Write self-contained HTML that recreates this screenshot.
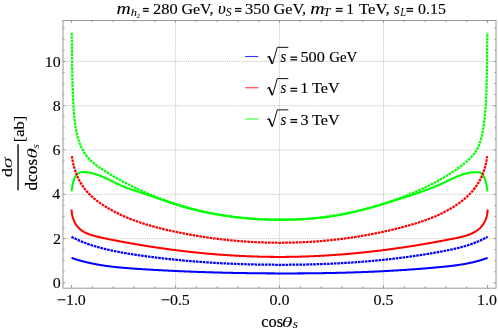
<!DOCTYPE html>
<html><head><meta charset="utf-8"><title>plot</title>
<style>
html,body{margin:0;padding:0;background:#fff;}
body{width:498px;height:331px;overflow:hidden;}
svg{display:block;}
text{font-family:"Liberation Serif",serif;fill:#000;}
.i{font-style:italic;}
</style></head><body>
<svg style="will-change:transform" width="498" height="331" viewBox="0 0 498 331">
<rect width="498" height="331" fill="#fff"/>
<g stroke="#a6a6a6" stroke-width="0.7" stroke-dasharray="1 1.05" fill="none">
<line x1="175.58" y1="20.5" x2="175.58" y2="288.2"/>
<line x1="279.55" y1="20.5" x2="279.55" y2="288.2"/>
<line x1="383.52" y1="20.5" x2="383.52" y2="288.2"/>
<line x1="63.0" y1="238.60" x2="496.0" y2="238.60"/>
<line x1="63.0" y1="194.30" x2="496.0" y2="194.30"/>
<line x1="63.0" y1="150.00" x2="496.0" y2="150.00"/>
<line x1="63.0" y1="105.70" x2="496.0" y2="105.70"/>
<line x1="63.0" y1="61.40" x2="496.0" y2="61.40"/>
</g>
<path d="M71.50,191.40 L71.63,190.79 L71.75,190.16 L71.86,189.53 L71.96,188.91 L72.06,188.32 L72.16,187.70 L72.27,187.06 L72.37,186.47 L72.48,185.86 L72.59,185.24 L72.71,184.61 L72.84,183.98 L72.97,183.34 L73.12,182.71 L73.27,182.07 L73.43,181.44 L73.61,180.81 L73.79,180.19 L73.99,179.57 L74.20,178.97 L74.43,178.39 L74.67,177.82 L74.92,177.27 L75.22,176.68 L75.54,176.13 L75.88,175.60 L76.24,175.11 L76.66,174.61 L77.11,174.16 L77.58,173.76 L78.09,173.41 L78.62,173.11 L79.17,172.84 L79.75,172.62 L80.35,172.44 L80.96,172.29 L81.60,172.18 L82.24,172.10 L82.85,172.06 L83.46,172.03 L84.08,172.03 L84.71,172.05 L85.34,172.09 L85.98,172.14 L86.61,172.21 L87.25,172.29 L87.89,172.39 L88.53,172.49 L89.16,172.60 L89.79,172.72 L90.42,172.85 L91.04,172.98 L91.66,173.13 L92.28,173.28 L92.89,173.43 L93.51,173.60 L94.12,173.77 L94.72,173.95 L95.33,174.13 L95.93,174.32 L96.53,174.51 L97.13,174.71 L97.72,174.92 L98.32,175.13 L98.91,175.35 L99.50,175.57 L100.09,175.80 L100.67,176.03 L101.26,176.26 L101.84,176.50 L102.42,176.74 L103.00,176.99 L103.58,177.24 L104.16,177.49 L104.73,177.75 L105.31,178.01 L105.88,178.27 L106.45,178.53 L107.02,178.80 L107.59,179.07 L108.16,179.34 L108.73,179.61 L109.30,179.88 L109.87,180.16 L110.44,180.43 L111.01,180.71 L111.57,180.99 L112.14,181.26 L112.71,181.54 L113.27,181.82 L113.84,182.09 L114.40,182.37 L114.97,182.65 L115.54,182.92 L116.11,183.20 L116.67,183.47 L117.24,183.74 L117.81,184.01 L118.38,184.28 L118.95,184.55 L119.52,184.81 L120.09,185.07 L120.66,185.33 L121.24,185.59 L121.81,185.84 L122.39,186.09 L122.96,186.34 L123.54,186.58 L124.12,186.82 L124.70,187.06 L125.28,187.29 L125.87,187.52 L126.45,187.74 L127.04,187.97 L127.62,188.18 L128.21,188.40 L128.80,188.61 L129.39,188.83 L129.98,189.03 L130.57,189.24 L131.16,189.45 L131.76,189.65 L132.35,189.85 L132.95,190.05 L133.54,190.25 L134.14,190.44 L134.73,190.64 L135.33,190.83 L135.93,191.02 L136.52,191.22 L137.12,191.41 L137.72,191.60 L138.32,191.79 L138.92,191.98 L139.52,192.17 L140.12,192.36 L140.71,192.55 L141.31,192.74 L141.91,192.94 L142.51,193.13 L143.11,193.32 L143.71,193.52 L144.31,193.71 L144.91,193.91 L145.50,194.11 L146.10,194.31 L146.70,194.51 L147.30,194.71 L147.89,194.91 L148.49,195.11 L149.09,195.31 L149.69,195.52 L150.28,195.72 L150.88,195.93 L151.47,196.14 L152.07,196.34 L152.67,196.55 L153.26,196.76 L153.86,196.97 L154.46,197.18 L155.05,197.39 L155.65,197.60 L156.24,197.81 L156.84,198.02 L157.43,198.23 L158.03,198.44 L158.63,198.65 L159.22,198.86 L159.82,199.07 L160.41,199.28 L161.01,199.49 L161.61,199.70 L162.20,199.91 L162.80,200.12 L163.39,200.33 L163.99,200.54 L164.59,200.75 L165.18,200.95 L165.78,201.16 L166.38,201.37 L166.97,201.57 L167.57,201.78 L168.17,201.99 L168.77,202.19 L169.36,202.39 L169.96,202.60 L170.56,202.80 L171.16,203.00 L171.76,203.20 L172.36,203.40 L172.96,203.59 L173.56,203.79 L174.15,203.98 L174.76,204.18 L175.36,204.37 L175.96,204.56 L176.56,204.75 L177.16,204.94 L177.76,205.13 L178.36,205.31 L178.96,205.50 L179.57,205.68 L180.17,205.86 L180.77,206.04 L181.38,206.22 L181.98,206.40 L182.59,206.57 L183.19,206.75 L183.79,206.92 L184.40,207.09 L185.00,207.26 L185.61,207.43 L186.22,207.60 L186.82,207.77 L187.43,207.93 L188.04,208.10 L188.64,208.26 L189.25,208.42 L189.86,208.58 L190.47,208.74 L191.07,208.90 L191.68,209.06 L192.29,209.21 L192.90,209.37 L193.51,209.52 L194.12,209.67 L194.73,209.82 L195.34,209.97 L195.95,210.12 L196.56,210.26 L197.17,210.41 L197.78,210.55 L198.40,210.69 L199.01,210.83 L199.62,210.97 L200.23,211.11 L200.84,211.25 L201.46,211.39 L202.07,211.52 L202.68,211.66 L203.30,211.79 L203.91,211.92 L204.52,212.05 L205.14,212.18 L205.75,212.31 L206.37,212.43 L206.98,212.56 L207.60,212.68 L208.21,212.80 L208.83,212.93 L209.44,213.05 L210.06,213.16 L210.68,213.28 L211.29,213.40 L211.91,213.51 L212.53,213.63 L213.14,213.74 L213.76,213.85 L214.38,213.97 L215.00,214.07 L215.61,214.18 L216.23,214.29 L216.85,214.40 L217.47,214.50 L218.09,214.61 L218.71,214.71 L219.33,214.81 L219.95,214.91 L220.57,215.01 L221.19,215.11 L221.81,215.20 L222.43,215.30 L223.05,215.39 L223.67,215.49 L224.29,215.58 L224.91,215.67 L225.53,215.76 L226.15,215.85 L226.77,215.94 L227.40,216.02 L228.02,216.11 L228.64,216.19 L229.26,216.28 L229.88,216.36 L230.51,216.44 L231.13,216.52 L231.75,216.60 L232.38,216.68 L233.00,216.75 L233.62,216.83 L234.25,216.91 L234.87,216.98 L235.49,217.05 L236.12,217.12 L236.74,217.19 L237.37,217.26 L237.99,217.33 L238.62,217.40 L239.24,217.46 L239.86,217.53 L240.49,217.59 L241.12,217.66 L241.74,217.72 L242.37,217.78 L242.99,217.84 L243.62,217.90 L244.24,217.95 L244.87,218.01 L245.50,218.07 L246.12,218.12 L246.75,218.17 L247.37,218.23 L248.00,218.28 L248.63,218.33 L249.25,218.38 L249.88,218.43 L250.51,218.48 L251.14,218.52 L251.76,218.57 L252.39,218.61 L253.02,218.66 L253.65,218.70 L254.27,218.74 L254.90,218.78 L255.53,218.82 L256.16,218.86 L256.79,218.90 L257.41,218.93 L258.04,218.97 L258.67,219.00 L259.30,219.04 L259.93,219.07 L260.56,219.10 L261.19,219.13 L261.81,219.16 L262.44,219.19 L263.07,219.22 L263.70,219.25 L264.33,219.27 L264.96,219.30 L265.59,219.32 L266.22,219.35 L266.85,219.37 L267.48,219.39 L268.11,219.41 L268.74,219.43 L269.37,219.45 L270.00,219.47 L270.63,219.49 L271.26,219.50 L271.89,219.52 L272.52,219.53 L273.15,219.54 L273.78,219.56 L274.41,219.57 L275.04,219.58 L275.67,219.59 L276.30,219.60 L276.93,219.61 L277.56,219.61 L278.19,219.62 L278.82,219.63 L279.45,219.63 L280.08,219.63 L280.71,219.64 L281.34,219.64 L281.97,219.64 L282.60,219.64 L283.23,219.64 L283.86,219.64 L284.49,219.64 L285.12,219.63 L285.75,219.63 L286.38,219.62 L287.02,219.62 L287.65,219.61 L288.28,219.60 L288.91,219.59 L289.54,219.58 L290.17,219.57 L290.80,219.56 L291.43,219.55 L292.06,219.53 L292.69,219.52 L293.32,219.50 L293.95,219.49 L294.58,219.47 L295.21,219.45 L295.84,219.43 L296.47,219.41 L297.10,219.39 L297.73,219.36 L298.36,219.34 L298.99,219.31 L299.62,219.29 L300.25,219.26 L300.88,219.23 L301.51,219.20 L302.14,219.17 L302.77,219.14 L303.40,219.11 L304.03,219.07 L304.66,219.04 L305.29,219.00 L305.92,218.96 L306.54,218.92 L307.17,218.88 L307.80,218.84 L308.43,218.80 L309.06,218.76 L309.69,218.71 L310.32,218.66 L310.94,218.62 L311.57,218.57 L312.20,218.52 L312.83,218.47 L313.45,218.42 L314.08,218.36 L314.71,218.31 L315.34,218.25 L315.96,218.19 L316.59,218.14 L317.22,218.08 L317.84,218.02 L318.47,217.95 L319.09,217.89 L319.72,217.82 L320.35,217.76 L320.97,217.69 L321.60,217.62 L322.22,217.55 L322.85,217.48 L323.47,217.41 L324.10,217.33 L324.72,217.25 L325.34,217.18 L325.97,217.10 L326.59,217.02 L327.21,216.94 L327.84,216.85 L328.46,216.77 L329.08,216.68 L329.71,216.60 L330.33,216.51 L330.95,216.42 L331.57,216.33 L332.19,216.23 L332.81,216.14 L333.44,216.04 L334.06,215.95 L334.68,215.85 L335.30,215.75 L335.92,215.64 L336.54,215.54 L337.16,215.44 L337.78,215.33 L338.39,215.22 L339.01,215.11 L339.63,215.00 L340.25,214.89 L340.87,214.77 L341.49,214.66 L342.10,214.54 L342.72,214.42 L343.34,214.30 L343.95,214.18 L344.57,214.06 L345.18,213.93 L345.80,213.81 L346.42,213.68 L347.03,213.55 L347.65,213.42 L348.26,213.29 L348.87,213.16 L349.49,213.02 L350.10,212.89 L350.72,212.75 L351.33,212.61 L351.94,212.47 L352.55,212.33 L353.17,212.19 L353.78,212.05 L354.39,211.91 L355.00,211.76 L355.62,211.61 L356.23,211.47 L356.84,211.32 L357.45,211.17 L358.06,211.02 L358.67,210.87 L359.28,210.71 L359.89,210.56 L360.50,210.41 L361.11,210.25 L361.72,210.09 L362.33,209.94 L362.94,209.78 L363.55,209.62 L364.15,209.46 L364.76,209.30 L365.37,209.13 L365.98,208.97 L366.59,208.81 L367.19,208.64 L367.80,208.48 L368.41,208.31 L369.01,208.14 L369.62,207.97 L370.23,207.80 L370.83,207.63 L371.44,207.46 L372.05,207.29 L372.65,207.12 L373.26,206.95 L373.86,206.77 L374.47,206.60 L375.07,206.43 L375.68,206.25 L376.28,206.07 L376.89,205.90 L377.49,205.72 L378.10,205.54 L378.70,205.36 L379.30,205.19 L379.91,205.01 L380.51,204.83 L381.11,204.65 L381.72,204.46 L382.32,204.28 L382.92,204.10 L383.53,203.92 L384.13,203.74 L384.73,203.55 L385.33,203.37 L385.94,203.19 L386.54,203.00 L387.14,202.82 L387.74,202.63 L388.34,202.45 L388.94,202.26 L389.55,202.08 L390.15,201.89 L390.75,201.70 L391.35,201.52 L391.95,201.33 L392.55,201.14 L393.15,200.96 L393.75,200.77 L394.35,200.58 L394.95,200.39 L395.55,200.21 L396.15,200.02 L396.75,199.83 L397.35,199.64 L397.95,199.45 L398.55,199.26 L399.15,199.08 L399.75,198.89 L400.35,198.70 L400.95,198.51 L401.55,198.32 L402.15,198.13 L402.74,197.95 L403.34,197.76 L403.94,197.57 L404.54,197.38 L405.14,197.19 L405.74,197.00 L406.33,196.81 L406.93,196.62 L407.53,196.43 L408.13,196.23 L408.72,196.04 L409.32,195.85 L409.92,195.66 L410.51,195.46 L411.11,195.27 L411.71,195.07 L412.30,194.88 L412.90,194.68 L413.49,194.49 L414.09,194.29 L414.68,194.09 L415.28,193.89 L415.87,193.69 L416.47,193.49 L417.06,193.29 L417.65,193.09 L418.25,192.89 L418.84,192.68 L419.43,192.48 L420.02,192.27 L420.62,192.06 L421.21,191.86 L421.80,191.65 L422.39,191.44 L422.98,191.23 L423.57,191.01 L424.16,190.80 L424.75,190.58 L425.34,190.37 L425.93,190.15 L426.52,189.93 L427.11,189.71 L427.70,189.49 L428.28,189.27 L428.87,189.05 L429.46,188.82 L430.04,188.59 L430.63,188.36 L431.21,188.13 L431.80,187.90 L432.38,187.67 L432.97,187.44 L433.55,187.20 L434.14,186.96 L434.72,186.72 L435.30,186.48 L435.88,186.24 L436.46,185.99 L437.05,185.75 L437.63,185.50 L438.21,185.25 L438.79,185.00 L439.36,184.74 L439.94,184.48 L440.52,184.23 L441.10,183.97 L441.68,183.70 L442.25,183.44 L442.83,183.17 L443.40,182.91 L443.98,182.64 L444.55,182.37 L445.13,182.09 L445.70,181.82 L446.28,181.55 L446.85,181.27 L447.42,181.00 L448.00,180.72 L448.57,180.45 L449.14,180.17 L449.72,179.90 L450.29,179.63 L450.86,179.36 L451.44,179.09 L452.01,178.82 L452.59,178.55 L453.16,178.29 L453.74,178.03 L454.32,177.77 L454.89,177.51 L455.47,177.26 L456.05,177.01 L456.63,176.76 L457.21,176.52 L457.79,176.28 L458.37,176.05 L458.95,175.82 L459.54,175.59 L460.12,175.37 L460.71,175.16 L461.30,174.95 L461.88,174.74 L462.47,174.54 L463.07,174.35 L463.66,174.17 L464.25,173.99 L464.85,173.82 L465.44,173.65 L466.04,173.49 L466.64,173.34 L467.25,173.20 L467.85,173.07 L468.45,172.94 L469.06,172.82 L469.67,172.71 L470.28,172.61 L470.90,172.52 L471.51,172.44 L472.13,172.37 L472.75,172.30 L473.37,172.25 L474.00,172.21 L474.62,172.18 L475.25,172.16 L475.89,172.15 L476.52,172.16 L477.14,172.18 L477.77,172.23 L478.38,172.31 L478.98,172.42 L479.56,172.56 L480.17,172.77 L480.76,173.03 L481.31,173.36 L481.83,173.75 L482.27,174.17 L482.68,174.65 L483.05,175.19 L483.36,175.71 L483.65,176.25 L483.93,176.82 L484.18,177.40 L484.42,177.97 L484.64,178.55 L484.85,179.12 L485.05,179.69 L485.26,180.32 L485.45,180.94 L485.63,181.56 L485.80,182.18 L485.95,182.80 L486.10,183.41 L486.24,184.03 L486.37,184.64 L486.50,185.25 L486.62,185.86 L486.73,186.47 L486.84,187.08 L486.95,187.69 L487.06,188.30 L487.16,188.91 L487.27,189.52 L487.37,190.13 L487.48,190.73 L487.59,191.34 L487.60,191.40" fill="none" stroke="#00ff00" stroke-width="2.05" stroke-linejoin="round"/>
<path d="M71.70,32.80 L71.71,33.47 L71.73,34.14 L71.74,34.80 L71.76,35.47 L71.77,36.14 L71.78,36.81 L71.80,37.47 L71.81,38.14 L71.82,38.81 L71.83,39.48 L71.84,40.14 L71.85,40.81 L71.87,41.48 L71.88,42.15 L71.89,42.81 L71.90,43.48 L71.91,44.15 L71.91,44.81 L71.92,45.48 L71.93,46.15 L71.94,46.82 L71.95,47.48 L71.96,48.15 L71.97,48.82 L71.98,49.48 L71.98,50.15 L71.99,50.82 L72.00,51.48 L72.01,52.15 L72.01,52.82 L72.02,53.48 L72.03,54.15 L72.04,54.82 L72.04,55.48 L72.05,56.15 L72.06,56.82 L72.07,57.48 L72.07,58.15 L72.08,58.82 L72.09,59.48 L72.10,60.15 L72.10,60.81 L72.11,61.48 L72.12,62.15 L72.13,62.81 L72.14,63.48 L72.14,64.14 L72.15,64.81 L72.16,65.48 L72.17,66.14 L72.18,66.81 L72.19,67.47 L72.20,68.14 L72.21,68.81 L72.22,69.47 L72.23,70.14 L72.24,70.80 L72.25,71.47 L72.26,72.14 L72.27,72.80 L72.28,73.47 L72.29,74.13 L72.30,74.80 L72.32,75.46 L72.33,76.13 L72.34,76.80 L72.36,77.46 L72.37,78.13 L72.38,78.79 L72.40,79.46 L72.41,80.12 L72.43,80.79 L72.45,81.46 L72.46,82.12 L72.48,82.79 L72.50,83.45 L72.51,84.12 L72.53,84.78 L72.55,85.45 L72.57,86.11 L72.59,86.78 L72.61,87.45 L72.63,88.11 L72.66,88.78 L72.68,89.44 L72.70,90.11 L72.73,90.77 L72.75,91.44 L72.77,92.10 L72.80,92.77 L72.83,93.43 L72.85,94.10 L72.88,94.77 L72.91,95.43 L72.94,96.10 L72.97,96.76 L73.00,97.43 L73.03,98.09 L73.06,98.76 L73.10,99.42 L73.13,100.09 L73.17,100.75 L73.20,101.42 L73.24,102.09 L73.28,102.75 L73.31,103.42 L73.35,104.08 L73.39,104.75 L73.43,105.41 L73.48,106.08 L73.52,106.74 L73.56,107.41 L73.61,108.08 L73.65,108.74 L73.70,109.41 L73.75,110.07 L73.80,110.74 L73.85,111.40 L73.90,112.07 L73.95,112.73 L74.00,113.40 L74.05,114.07 L74.11,114.73 L74.17,115.40 L74.22,116.06 L74.28,116.73 L74.35,117.39 L74.41,118.06 L74.47,118.72 L74.54,119.39 L74.61,120.05 L74.68,120.72 L74.76,121.38 L74.84,122.04 L74.92,122.71 L75.00,123.37 L75.09,124.03 L75.18,124.69 L75.27,125.35 L75.37,126.01 L75.47,126.67 L75.57,127.33 L75.68,127.99 L75.79,128.65 L75.91,129.31 L76.03,129.96 L76.16,130.62 L76.29,131.27 L76.42,131.93 L76.56,132.58 L76.71,133.23 L76.86,133.88 L77.01,134.53 L77.17,135.18 L77.34,135.83 L77.51,136.48 L77.69,137.12 L77.87,137.77 L78.06,138.41 L78.25,139.05 L78.46,139.70 L78.66,140.33 L78.88,140.97 L79.10,141.61 L79.32,142.24 L79.56,142.87 L79.80,143.50 L80.04,144.12 L80.30,144.74 L80.56,145.36 L80.82,145.98 L81.10,146.59 L81.38,147.20 L81.67,147.80 L81.96,148.40 L82.26,148.99 L82.57,149.58 L82.89,150.17 L83.21,150.75 L83.54,151.33 L83.88,151.90 L84.22,152.46 L84.58,153.02 L84.94,153.58 L85.31,154.12 L85.68,154.66 L86.07,155.20 L86.46,155.73 L86.86,156.25 L87.26,156.76 L87.68,157.27 L88.10,157.77 L88.53,158.26 L88.97,158.75 L89.42,159.23 L89.88,159.70 L90.34,160.16 L90.80,160.62 L91.28,161.08 L91.76,161.52 L92.25,161.96 L92.74,162.40 L93.24,162.83 L93.74,163.25 L94.25,163.67 L94.77,164.09 L95.29,164.50 L95.81,164.90 L96.34,165.30 L96.87,165.70 L97.41,166.09 L97.95,166.48 L98.49,166.87 L99.04,167.25 L99.59,167.63 L100.14,168.00 L100.70,168.38 L101.26,168.75 L101.82,169.11 L102.38,169.48 L102.94,169.84 L103.50,170.21 L104.07,170.57 L104.64,170.93 L105.20,171.28 L105.77,171.64 L106.34,171.99 L106.91,172.35 L107.48,172.70 L108.05,173.05 L108.62,173.40 L109.20,173.75 L109.77,174.09 L110.34,174.44 L110.92,174.78 L111.49,175.13 L112.07,175.47 L112.64,175.81 L113.22,176.15 L113.80,176.48 L114.38,176.82 L114.96,177.16 L115.54,177.49 L116.12,177.82 L116.70,178.15 L117.28,178.48 L117.87,178.81 L118.45,179.14 L119.03,179.46 L119.62,179.79 L120.20,180.11 L120.79,180.43 L121.38,180.75 L121.96,181.07 L122.55,181.39 L123.14,181.71 L123.73,182.02 L124.32,182.33 L124.91,182.65 L125.50,182.96 L126.09,183.27 L126.69,183.58 L127.28,183.88 L127.87,184.19 L128.47,184.49 L129.06,184.80 L129.66,185.10 L130.26,185.40 L130.85,185.70 L131.45,186.00 L132.05,186.29 L132.65,186.59 L133.25,186.88 L133.85,187.18 L134.45,187.47 L135.05,187.76 L135.65,188.05 L136.25,188.33 L136.86,188.62 L137.46,188.91 L138.06,189.19 L138.67,189.47 L139.27,189.75 L139.88,190.03 L140.49,190.31 L141.09,190.59 L141.70,190.86 L142.31,191.14 L142.92,191.41 L143.53,191.68 L144.14,191.95 L144.75,192.22 L145.36,192.49 L145.97,192.76 L146.58,193.02 L147.19,193.29 L147.81,193.55 L148.42,193.81 L149.04,194.07 L149.65,194.33 L150.27,194.59 L150.88,194.84 L151.50,195.10 L152.11,195.35 L152.73,195.60 L153.35,195.85 L153.97,196.10 L154.59,196.35 L155.21,196.60 L155.83,196.84 L156.45,197.09 L157.07,197.33 L157.69,197.57 L158.31,197.81 L158.93,198.05 L159.56,198.29 L160.18,198.53 L160.80,198.76 L161.43,198.99 L162.05,199.23 L162.68,199.46 L163.30,199.69 L163.93,199.92 L164.56,200.14 L165.18,200.37 L165.81,200.59 L166.44,200.82 L167.07,201.04 L167.70,201.26 L168.33,201.48 L168.96,201.70 L169.59,201.92 L170.22,202.13 L170.85,202.34 L171.48,202.56 L172.11,202.77 L172.74,202.98 L173.38,203.19 L174.01,203.40 L174.64,203.60 L175.28,203.81 L175.91,204.01 L176.55,204.21 L177.18,204.42 L177.82,204.61 L178.46,204.81 L179.09,205.01 L179.73,205.21 L180.37,205.40 L181.01,205.59 L181.64,205.79 L182.28,205.98 L182.92,206.17 L183.56,206.36 L184.20,206.54 L184.84,206.73 L185.48,206.91 L186.12,207.09 L186.76,207.28 L187.41,207.46 L188.05,207.64 L188.69,207.81 L189.33,207.99 L189.98,208.16 L190.62,208.34 L191.26,208.51 L191.91,208.68 L192.55,208.85 L193.20,209.02 L193.84,209.19 L194.49,209.35 L195.13,209.52 L195.78,209.68 L196.43,209.84 L197.07,210.01 L197.72,210.16 L198.37,210.32 L199.02,210.48 L199.66,210.64 L200.31,210.79 L200.96,210.94 L201.61,211.09 L202.26,211.25 L202.91,211.39 L203.56,211.54 L204.21,211.69 L204.86,211.83 L205.51,211.98 L206.16,212.12 L206.81,212.26 L207.46,212.40 L208.12,212.54 L208.77,212.68 L209.42,212.81 L210.07,212.95 L210.73,213.08 L211.38,213.22 L212.03,213.35 L212.69,213.48 L213.34,213.60 L214.00,213.73 L214.65,213.86 L215.31,213.98 L215.96,214.10 L216.62,214.23 L217.27,214.35 L217.93,214.47 L218.59,214.58 L219.24,214.70 L219.90,214.82 L220.56,214.93 L221.21,215.04 L221.87,215.16 L222.53,215.27 L223.19,215.37 L223.84,215.48 L224.50,215.59 L225.16,215.69 L225.82,215.80 L226.48,215.90 L227.14,216.00 L227.80,216.10 L228.45,216.20 L229.11,216.30 L229.77,216.39 L230.43,216.49 L231.09,216.58 L231.75,216.67 L232.42,216.76 L233.08,216.85 L233.74,216.94 L234.40,217.03 L235.06,217.12 L235.72,217.20 L236.38,217.28 L237.04,217.36 L237.71,217.45 L238.37,217.52 L239.03,217.60 L239.69,217.68 L240.36,217.75 L241.02,217.83 L241.68,217.90 L242.34,217.97 L243.01,218.04 L243.67,218.11 L244.33,218.18 L245.00,218.25 L245.66,218.31 L246.32,218.37 L246.99,218.44 L247.65,218.50 L248.32,218.56 L248.98,218.62 L249.64,218.67 L250.31,218.73 L250.97,218.79 L251.64,218.84 L252.30,218.89 L252.97,218.94 L253.63,218.99 L254.30,219.04 L254.96,219.09 L255.63,219.13 L256.29,219.18 L256.96,219.22 L257.62,219.26 L258.29,219.30 L258.95,219.34 L259.62,219.38 L260.29,219.42 L260.95,219.45 L261.62,219.49 L262.28,219.52 L262.95,219.55 L263.62,219.58 L264.28,219.61 L264.95,219.64 L265.61,219.67 L266.28,219.69 L266.95,219.71 L267.61,219.74 L268.28,219.76 L268.95,219.78 L269.61,219.80 L270.28,219.81 L270.94,219.83 L271.61,219.85 L272.28,219.86 L272.94,219.87 L273.61,219.88 L274.28,219.89 L274.94,219.90 L275.61,219.91 L276.28,219.91 L276.94,219.92 L277.61,219.92 L278.28,219.92 L278.94,219.93 L279.61,219.93 L280.27,219.92 L280.94,219.92 L281.61,219.92 L282.27,219.91 L282.94,219.90 L283.61,219.90 L284.27,219.89 L284.94,219.88 L285.61,219.86 L286.27,219.85 L286.94,219.84 L287.60,219.82 L288.27,219.80 L288.94,219.78 L289.60,219.77 L290.27,219.74 L290.93,219.72 L291.60,219.70 L292.27,219.67 L292.93,219.65 L293.60,219.62 L294.26,219.59 L294.93,219.56 L295.59,219.53 L296.26,219.50 L296.92,219.46 L297.59,219.43 L298.26,219.39 L298.92,219.36 L299.59,219.32 L300.25,219.28 L300.92,219.24 L301.58,219.19 L302.24,219.15 L302.91,219.10 L303.57,219.06 L304.24,219.01 L304.90,218.96 L305.57,218.91 L306.23,218.86 L306.89,218.81 L307.56,218.75 L308.22,218.70 L308.89,218.64 L309.55,218.58 L310.21,218.52 L310.88,218.46 L311.54,218.40 L312.20,218.34 L312.87,218.27 L313.53,218.21 L314.19,218.14 L314.85,218.07 L315.52,218.00 L316.18,217.93 L316.84,217.86 L317.50,217.79 L318.16,217.71 L318.83,217.64 L319.49,217.56 L320.15,217.48 L320.81,217.40 L321.47,217.32 L322.13,217.24 L322.79,217.16 L323.45,217.07 L324.11,216.99 L324.77,216.90 L325.43,216.81 L326.09,216.72 L326.75,216.63 L327.41,216.54 L328.07,216.44 L328.73,216.35 L329.39,216.25 L330.05,216.16 L330.71,216.06 L331.37,215.96 L332.02,215.86 L332.68,215.75 L333.34,215.65 L334.00,215.55 L334.66,215.44 L335.31,215.33 L335.97,215.22 L336.63,215.11 L337.28,215.00 L337.94,214.89 L338.60,214.78 L339.25,214.66 L339.91,214.55 L340.56,214.43 L341.22,214.31 L341.87,214.19 L342.53,214.07 L343.18,213.94 L343.84,213.82 L344.49,213.70 L345.14,213.57 L345.80,213.44 L346.45,213.31 L347.10,213.18 L347.76,213.05 L348.41,212.92 L349.06,212.78 L349.71,212.65 L350.37,212.51 L351.02,212.37 L351.67,212.24 L352.32,212.10 L352.97,211.95 L353.62,211.81 L354.27,211.67 L354.92,211.52 L355.57,211.38 L356.22,211.23 L356.87,211.08 L357.52,210.93 L358.17,210.78 L358.82,210.62 L359.46,210.47 L360.11,210.31 L360.76,210.16 L361.41,210.00 L362.05,209.84 L362.70,209.68 L363.35,209.52 L363.99,209.35 L364.64,209.19 L365.28,209.02 L365.93,208.86 L366.57,208.69 L367.22,208.52 L367.86,208.35 L368.50,208.18 L369.15,208.00 L369.79,207.83 L370.43,207.66 L371.08,207.48 L371.72,207.30 L372.36,207.12 L373.00,206.94 L373.64,206.76 L374.28,206.58 L374.92,206.39 L375.56,206.21 L376.20,206.02 L376.84,205.83 L377.48,205.64 L378.12,205.45 L378.76,205.26 L379.40,205.06 L380.03,204.87 L380.67,204.67 L381.31,204.48 L381.94,204.28 L382.58,204.08 L383.21,203.88 L383.85,203.68 L384.48,203.47 L385.12,203.27 L385.75,203.06 L386.39,202.86 L387.02,202.65 L387.65,202.44 L388.29,202.23 L388.92,202.02 L389.55,201.80 L390.18,201.59 L390.81,201.37 L391.44,201.16 L392.07,200.94 L392.70,200.72 L393.33,200.50 L393.96,200.28 L394.59,200.05 L395.22,199.83 L395.84,199.60 L396.47,199.38 L397.10,199.15 L397.73,198.92 L398.35,198.69 L398.98,198.45 L399.60,198.22 L400.23,197.99 L400.85,197.75 L401.47,197.51 L402.10,197.28 L402.72,197.04 L403.34,196.80 L403.96,196.55 L404.59,196.31 L405.21,196.07 L405.83,195.82 L406.45,195.57 L407.07,195.33 L407.69,195.08 L408.30,194.82 L408.92,194.57 L409.54,194.32 L410.16,194.07 L410.78,193.81 L411.39,193.55 L412.01,193.29 L412.62,193.03 L413.24,192.77 L413.85,192.51 L414.47,192.25 L415.08,191.98 L415.69,191.72 L416.30,191.45 L416.92,191.18 L417.53,190.91 L418.14,190.64 L418.75,190.37 L419.36,190.10 L419.97,189.82 L420.58,189.55 L421.18,189.27 L421.79,188.99 L422.40,188.71 L423.00,188.43 L423.61,188.15 L424.21,187.86 L424.82,187.58 L425.42,187.29 L426.02,187.00 L426.62,186.71 L427.23,186.42 L427.83,186.13 L428.43,185.83 L429.02,185.53 L429.62,185.24 L430.22,184.94 L430.82,184.64 L431.41,184.33 L432.01,184.03 L432.60,183.73 L433.19,183.42 L433.78,183.11 L434.38,182.80 L434.97,182.49 L435.56,182.17 L436.14,181.86 L436.73,181.54 L437.32,181.22 L437.90,180.90 L438.49,180.58 L439.07,180.26 L439.65,179.93 L440.24,179.60 L440.82,179.27 L441.40,178.94 L441.97,178.61 L442.55,178.28 L443.13,177.94 L443.70,177.60 L444.28,177.26 L444.85,176.92 L445.42,176.58 L445.99,176.23 L446.56,175.89 L447.13,175.54 L447.70,175.19 L448.26,174.83 L448.83,174.48 L449.39,174.12 L449.95,173.76 L450.51,173.40 L451.07,173.04 L451.63,172.67 L452.19,172.31 L452.74,171.94 L453.30,171.57 L453.85,171.19 L454.40,170.82 L454.95,170.44 L455.50,170.06 L456.05,169.68 L456.59,169.30 L457.14,168.91 L457.68,168.53 L458.22,168.14 L458.77,167.75 L459.30,167.35 L459.84,166.96 L460.38,166.56 L460.91,166.16 L461.45,165.75 L461.98,165.35 L462.51,164.94 L463.03,164.53 L463.56,164.12 L464.08,163.70 L464.60,163.28 L465.11,162.86 L465.62,162.44 L466.13,162.01 L466.64,161.57 L467.14,161.14 L467.63,160.70 L468.12,160.25 L468.61,159.80 L469.08,159.35 L469.56,158.89 L470.03,158.43 L470.49,157.96 L470.94,157.49 L471.39,157.01 L471.83,156.52 L472.27,156.04 L472.69,155.54 L473.11,155.04 L473.52,154.53 L473.93,154.02 L474.32,153.50 L474.70,152.98 L475.08,152.44 L475.45,151.90 L475.80,151.36 L476.15,150.81 L476.49,150.25 L476.82,149.68 L477.13,149.10 L477.44,148.52 L477.73,147.93 L478.02,147.34 L478.30,146.74 L478.56,146.13 L478.82,145.51 L479.07,144.89 L479.31,144.27 L479.54,143.64 L479.77,143.01 L479.98,142.37 L480.19,141.73 L480.40,141.08 L480.59,140.43 L480.78,139.78 L480.96,139.13 L481.14,138.47 L481.31,137.81 L481.47,137.15 L481.63,136.49 L481.79,135.82 L481.94,135.16 L482.08,134.49 L482.22,133.82 L482.36,133.16 L482.49,132.49 L482.62,131.82 L482.75,131.16 L482.87,130.49 L482.99,129.83 L483.11,129.16 L483.22,128.50 L483.33,127.83 L483.44,127.17 L483.54,126.51 L483.64,125.84 L483.74,125.18 L483.84,124.52 L483.93,123.86 L484.02,123.20 L484.11,122.53 L484.20,121.87 L484.28,121.21 L484.36,120.55 L484.44,119.89 L484.51,119.23 L484.59,118.57 L484.66,117.91 L484.73,117.25 L484.80,116.59 L484.86,115.93 L484.93,115.27 L484.99,114.61 L485.05,113.95 L485.11,113.29 L485.16,112.63 L485.22,111.97 L485.27,111.31 L485.33,110.65 L485.38,109.99 L485.43,109.33 L485.47,108.67 L485.52,108.01 L485.57,107.35 L485.61,106.69 L485.65,106.02 L485.70,105.36 L485.74,104.70 L485.78,104.04 L485.82,103.38 L485.86,102.71 L485.89,102.05 L485.93,101.39 L485.97,100.73 L486.00,100.06 L486.04,99.40 L486.07,98.73 L486.10,98.07 L486.13,97.41 L486.16,96.74 L486.19,96.08 L486.22,95.41 L486.25,94.75 L486.28,94.08 L486.30,93.42 L486.33,92.75 L486.36,92.09 L486.38,91.42 L486.40,90.75 L486.43,90.09 L486.45,89.42 L486.47,88.75 L486.49,88.09 L486.51,87.42 L486.53,86.75 L486.55,86.09 L486.57,85.42 L486.59,84.75 L486.61,84.09 L486.63,83.42 L486.64,82.75 L486.66,82.08 L486.67,81.42 L486.69,80.75 L486.70,80.08 L486.72,79.41 L486.73,78.74 L486.74,78.08 L486.76,77.41 L486.77,76.74 L486.78,76.07 L486.79,75.40 L486.81,74.73 L486.82,74.07 L486.83,73.40 L486.84,72.73 L486.85,72.06 L486.86,71.39 L486.87,70.72 L486.88,70.05 L486.89,69.39 L486.89,68.72 L486.90,68.05 L486.91,67.38 L486.92,66.71 L486.93,66.04 L486.94,65.37 L486.94,64.70 L486.95,64.04 L486.96,63.37 L486.97,62.70 L486.97,62.03 L486.98,61.36 L486.99,60.69 L486.99,60.03 L487.00,59.36 L487.01,58.69 L487.01,58.02 L487.02,57.35 L487.03,56.68 L487.04,56.02 L487.04,55.35 L487.05,54.68 L487.06,54.01 L487.06,53.34 L487.07,52.68 L487.08,52.01 L487.09,51.34 L487.09,50.68 L487.10,50.01 L487.11,49.34 L487.12,48.67 L487.13,48.01 L487.13,47.34 L487.14,46.67 L487.15,46.01 L487.16,45.34 L487.17,44.68 L487.18,44.01 L487.19,43.34 L487.20,42.68 L487.21,42.01 L487.22,41.35 L487.23,40.68 L487.25,40.02 L487.26,39.35 L487.27,38.69 L487.28,38.02 L487.30,37.36 L487.31,36.70 L487.32,36.03 L487.34,35.37 L487.35,34.71 L487.37,34.04 L487.39,33.38 L487.40,32.80" fill="none" stroke="#00ff00" stroke-width="2.25" stroke-linejoin="round" stroke-dasharray="2.6 0.85"/>
<path d="M71.50,209.50 L71.53,210.11 L71.58,210.73 L71.64,211.35 L71.71,211.97 L71.79,212.59 L71.88,213.21 L71.98,213.83 L72.10,214.45 L72.22,215.07 L72.36,215.68 L72.52,216.29 L72.68,216.90 L72.85,217.51 L73.04,218.11 L73.24,218.71 L73.45,219.30 L73.68,219.89 L73.91,220.47 L74.16,221.04 L74.42,221.61 L74.70,222.17 L74.98,222.72 L75.28,223.26 L75.59,223.79 L75.92,224.31 L76.25,224.83 L76.60,225.33 L76.96,225.82 L77.33,226.30 L77.72,226.76 L78.11,227.22 L78.52,227.67 L78.94,228.10 L79.37,228.52 L79.81,228.93 L80.30,229.36 L80.80,229.78 L81.32,230.18 L81.84,230.57 L82.38,230.94 L82.89,231.27 L83.40,231.58 L83.92,231.89 L84.45,232.18 L84.98,232.46 L85.53,232.74 L86.08,233.00 L86.64,233.25 L87.20,233.50 L87.77,233.73 L88.34,233.96 L88.92,234.18 L89.50,234.39 L90.09,234.60 L90.69,234.79 L91.28,234.99 L91.88,235.17 L92.48,235.35 L93.09,235.53 L93.69,235.70 L94.30,235.86 L94.91,236.03 L95.52,236.18 L96.14,236.34 L96.75,236.49 L97.36,236.64 L97.97,236.79 L98.59,236.93 L99.20,237.08 L99.81,237.22 L100.42,237.36 L101.02,237.50 L101.63,237.63 L102.24,237.77 L102.85,237.90 L103.45,238.04 L104.06,238.17 L104.67,238.30 L105.27,238.43 L105.88,238.56 L106.48,238.68 L107.09,238.81 L107.69,238.93 L108.30,239.06 L108.90,239.18 L109.51,239.30 L110.11,239.43 L110.71,239.55 L111.32,239.67 L111.92,239.79 L112.52,239.91 L113.13,240.03 L113.73,240.14 L114.34,240.26 L114.94,240.38 L115.54,240.50 L116.15,240.61 L116.75,240.73 L117.36,240.85 L117.96,240.96 L118.57,241.08 L119.17,241.19 L119.78,241.31 L120.38,241.42 L120.99,241.53 L121.59,241.65 L122.20,241.76 L122.80,241.87 L123.41,241.99 L124.02,242.10 L124.62,242.21 L125.23,242.32 L125.83,242.43 L126.44,242.54 L127.05,242.65 L127.65,242.76 L128.26,242.87 L128.87,242.98 L129.47,243.09 L130.08,243.20 L130.69,243.30 L131.30,243.41 L131.90,243.52 L132.51,243.62 L133.12,243.73 L133.73,243.84 L134.33,243.94 L134.94,244.05 L135.55,244.15 L136.16,244.26 L136.77,244.36 L137.37,244.46 L137.98,244.57 L138.59,244.67 L139.20,244.77 L139.81,244.87 L140.42,244.97 L141.03,245.08 L141.63,245.18 L142.24,245.28 L142.85,245.38 L143.46,245.48 L144.07,245.58 L144.68,245.67 L145.29,245.77 L145.90,245.87 L146.51,245.97 L147.12,246.07 L147.73,246.16 L148.34,246.26 L148.95,246.35 L149.56,246.45 L150.17,246.55 L150.78,246.64 L151.39,246.73 L152.00,246.83 L152.61,246.92 L153.22,247.02 L153.83,247.11 L154.44,247.20 L155.06,247.29 L155.67,247.38 L156.28,247.48 L156.89,247.57 L157.50,247.66 L158.11,247.75 L158.72,247.84 L159.33,247.93 L159.95,248.01 L160.56,248.10 L161.17,248.19 L161.78,248.28 L162.39,248.37 L163.01,248.45 L163.62,248.54 L164.23,248.62 L164.84,248.71 L165.46,248.80 L166.07,248.88 L166.68,248.96 L167.29,249.05 L167.91,249.13 L168.52,249.22 L169.13,249.30 L169.74,249.38 L170.36,249.46 L170.97,249.54 L171.58,249.62 L172.20,249.70 L172.81,249.78 L173.42,249.86 L174.04,249.94 L174.65,250.02 L175.26,250.10 L175.88,250.18 L176.49,250.26 L177.10,250.33 L177.72,250.41 L178.33,250.49 L178.95,250.56 L179.56,250.64 L180.17,250.71 L180.79,250.79 L181.40,250.86 L182.02,250.94 L182.63,251.01 L183.25,251.08 L183.86,251.16 L184.47,251.23 L185.09,251.30 L185.70,251.37 L186.32,251.44 L186.93,251.51 L187.55,251.58 L188.16,251.65 L188.78,251.72 L189.39,251.79 L190.01,251.86 L190.62,251.93 L191.24,251.99 L191.85,252.06 L192.47,252.13 L193.08,252.19 L193.70,252.26 L194.32,252.32 L194.93,252.39 L195.55,252.45 L196.16,252.52 L196.78,252.58 L197.39,252.64 L198.01,252.71 L198.62,252.77 L199.24,252.83 L199.86,252.89 L200.47,252.95 L201.09,253.01 L201.70,253.07 L202.32,253.13 L202.94,253.19 L203.55,253.25 L204.17,253.31 L204.79,253.36 L205.40,253.42 L206.02,253.48 L206.63,253.54 L207.25,253.59 L207.87,253.65 L208.48,253.70 L209.10,253.76 L209.72,253.81 L210.33,253.86 L210.95,253.92 L211.57,253.97 L212.18,254.02 L212.80,254.07 L213.42,254.13 L214.03,254.18 L214.65,254.23 L215.27,254.28 L215.89,254.33 L216.50,254.38 L217.12,254.43 L217.74,254.47 L218.35,254.52 L218.97,254.57 L219.59,254.62 L220.20,254.66 L220.82,254.71 L221.44,254.75 L222.06,254.80 L222.67,254.84 L223.29,254.89 L223.91,254.93 L224.53,254.97 L225.14,255.02 L225.76,255.06 L226.38,255.10 L227.00,255.14 L227.61,255.18 L228.23,255.22 L228.85,255.26 L229.47,255.30 L230.08,255.34 L230.70,255.38 L231.32,255.42 L231.94,255.46 L232.55,255.50 L233.17,255.53 L233.79,255.57 L234.41,255.60 L235.02,255.64 L235.64,255.67 L236.26,255.71 L236.88,255.74 L237.50,255.78 L238.11,255.81 L238.73,255.84 L239.35,255.87 L239.97,255.91 L240.59,255.94 L241.20,255.97 L241.82,256.00 L242.44,256.03 L243.06,256.06 L243.67,256.08 L244.29,256.11 L244.91,256.14 L245.53,256.17 L246.15,256.19 L246.76,256.22 L247.38,256.25 L248.00,256.27 L248.62,256.30 L249.24,256.32 L249.85,256.35 L250.47,256.37 L251.09,256.39 L251.71,256.41 L252.33,256.44 L252.94,256.46 L253.56,256.48 L254.18,256.50 L254.80,256.52 L255.42,256.54 L256.03,256.56 L256.65,256.58 L257.27,256.59 L257.89,256.61 L258.51,256.63 L259.12,256.65 L259.74,256.66 L260.36,256.68 L260.98,256.69 L261.60,256.71 L262.21,256.72 L262.83,256.74 L263.45,256.75 L264.07,256.76 L264.69,256.77 L265.30,256.79 L265.92,256.80 L266.54,256.81 L267.16,256.82 L267.78,256.83 L268.39,256.84 L269.01,256.85 L269.63,256.85 L270.25,256.86 L270.87,256.87 L271.48,256.88 L272.10,256.88 L272.72,256.89 L273.34,256.89 L273.95,256.90 L274.57,256.90 L275.19,256.91 L275.81,256.91 L276.43,256.91 L277.04,256.91 L277.66,256.92 L278.28,256.92 L278.90,256.92 L279.51,256.92 L280.13,256.92 L280.75,256.92 L281.37,256.91 L281.98,256.91 L282.60,256.91 L283.22,256.91 L283.84,256.90 L284.45,256.90 L285.07,256.90 L285.69,256.89 L286.31,256.89 L286.92,256.88 L287.54,256.87 L288.16,256.87 L288.78,256.86 L289.39,256.85 L290.01,256.84 L290.63,256.83 L291.24,256.83 L291.86,256.82 L292.48,256.81 L293.10,256.79 L293.71,256.78 L294.33,256.77 L294.95,256.76 L295.56,256.75 L296.18,256.73 L296.80,256.72 L297.42,256.70 L298.03,256.69 L298.65,256.67 L299.27,256.66 L299.88,256.64 L300.50,256.63 L301.12,256.61 L301.73,256.59 L302.35,256.57 L302.97,256.55 L303.58,256.53 L304.20,256.51 L304.82,256.49 L305.43,256.47 L306.05,256.45 L306.67,256.43 L307.28,256.41 L307.90,256.39 L308.52,256.36 L309.13,256.34 L309.75,256.32 L310.37,256.29 L310.98,256.27 L311.60,256.24 L312.22,256.22 L312.83,256.19 L313.45,256.16 L314.07,256.13 L314.68,256.11 L315.30,256.08 L315.91,256.05 L316.53,256.02 L317.15,255.99 L317.76,255.96 L318.38,255.93 L319.00,255.90 L319.61,255.87 L320.23,255.83 L320.84,255.80 L321.46,255.77 L322.08,255.74 L322.69,255.70 L323.31,255.67 L323.92,255.63 L324.54,255.60 L325.16,255.56 L325.77,255.52 L326.39,255.49 L327.00,255.45 L327.62,255.41 L328.23,255.37 L328.85,255.34 L329.47,255.30 L330.08,255.26 L330.70,255.22 L331.31,255.18 L331.93,255.14 L332.54,255.09 L333.16,255.05 L333.78,255.01 L334.39,254.97 L335.01,254.92 L335.62,254.88 L336.24,254.84 L336.85,254.79 L337.47,254.75 L338.08,254.70 L338.70,254.65 L339.31,254.61 L339.93,254.56 L340.55,254.51 L341.16,254.47 L341.78,254.42 L342.39,254.37 L343.01,254.32 L343.62,254.27 L344.24,254.22 L344.85,254.17 L345.47,254.12 L346.08,254.07 L346.70,254.01 L347.31,253.96 L347.93,253.91 L348.54,253.86 L349.16,253.80 L349.77,253.75 L350.39,253.69 L351.00,253.64 L351.62,253.58 L352.23,253.53 L352.85,253.47 L353.46,253.41 L354.07,253.36 L354.69,253.30 L355.30,253.24 L355.92,253.18 L356.53,253.12 L357.15,253.06 L357.76,253.00 L358.38,252.94 L358.99,252.88 L359.61,252.82 L360.22,252.76 L360.83,252.70 L361.45,252.64 L362.06,252.57 L362.68,252.51 L363.29,252.45 L363.91,252.38 L364.52,252.32 L365.13,252.25 L365.75,252.19 L366.36,252.12 L366.98,252.05 L367.59,251.99 L368.21,251.92 L368.82,251.85 L369.43,251.78 L370.05,251.72 L370.66,251.65 L371.28,251.58 L371.89,251.51 L372.50,251.44 L373.12,251.37 L373.73,251.29 L374.34,251.22 L374.96,251.15 L375.57,251.08 L376.19,251.01 L376.80,250.93 L377.41,250.86 L378.03,250.79 L378.64,250.71 L379.25,250.64 L379.87,250.56 L380.48,250.48 L381.09,250.41 L381.71,250.33 L382.32,250.25 L382.93,250.18 L383.55,250.10 L384.16,250.02 L384.77,249.94 L385.39,249.86 L386.00,249.78 L386.61,249.70 L387.23,249.62 L387.84,249.54 L388.45,249.46 L389.07,249.38 L389.68,249.30 L390.29,249.22 L390.91,249.13 L391.52,249.05 L392.13,248.97 L392.75,248.88 L393.36,248.80 L393.97,248.71 L394.58,248.63 L395.20,248.54 L395.81,248.46 L396.42,248.37 L397.03,248.28 L397.65,248.20 L398.26,248.11 L398.87,248.02 L399.49,247.93 L400.10,247.84 L400.71,247.75 L401.32,247.66 L401.94,247.57 L402.55,247.48 L403.16,247.39 L403.77,247.30 L404.38,247.21 L405.00,247.12 L405.61,247.03 L406.22,246.93 L406.83,246.84 L407.45,246.75 L408.06,246.65 L408.67,246.56 L409.28,246.46 L409.89,246.37 L410.51,246.27 L411.12,246.18 L411.73,246.08 L412.34,245.98 L412.95,245.89 L413.57,245.79 L414.18,245.69 L414.79,245.59 L415.40,245.49 L416.01,245.39 L416.63,245.29 L417.24,245.19 L417.85,245.09 L418.46,244.99 L419.07,244.89 L419.68,244.79 L420.29,244.69 L420.91,244.59 L421.52,244.48 L422.13,244.38 L422.74,244.28 L423.35,244.17 L423.96,244.07 L424.57,243.97 L425.19,243.86 L425.80,243.76 L426.41,243.65 L427.02,243.54 L427.63,243.44 L428.24,243.33 L428.85,243.22 L429.46,243.12 L430.07,243.01 L430.69,242.90 L431.30,242.79 L431.91,242.68 L432.52,242.57 L433.13,242.46 L433.74,242.35 L434.35,242.24 L434.96,242.13 L435.57,242.02 L436.18,241.91 L436.79,241.80 L437.40,241.69 L438.02,241.57 L438.63,241.46 L439.24,241.35 L439.85,241.23 L440.46,241.12 L441.07,241.00 L441.68,240.89 L442.29,240.77 L442.90,240.66 L443.51,240.54 L444.12,240.43 L444.73,240.31 L445.34,240.19 L445.95,240.07 L446.56,239.96 L447.17,239.84 L447.78,239.72 L448.39,239.60 L449.00,239.48 L449.61,239.36 L450.22,239.24 L450.83,239.12 L451.44,239.00 L452.05,238.88 L452.66,238.76 L453.27,238.64 L453.88,238.52 L454.49,238.39 L455.10,238.27 L455.71,238.15 L456.32,238.02 L456.93,237.90 L457.53,237.77 L458.14,237.64 L458.75,237.51 L459.35,237.38 L459.96,237.24 L460.56,237.10 L461.16,236.96 L461.76,236.82 L462.36,236.67 L462.96,236.51 L463.55,236.36 L464.14,236.19 L464.73,236.03 L465.32,235.86 L465.91,235.68 L466.49,235.50 L467.07,235.31 L467.64,235.11 L468.22,234.91 L468.79,234.70 L469.36,234.49 L469.92,234.27 L470.48,234.03 L471.04,233.80 L471.59,233.55 L472.14,233.30 L472.68,233.03 L473.22,232.76 L473.75,232.48 L474.28,232.19 L474.81,231.88 L475.33,231.57 L475.85,231.25 L476.35,230.92 L476.86,230.58 L477.35,230.22 L477.84,229.86 L478.32,229.49 L478.79,229.10 L479.25,228.70 L479.70,228.30 L480.14,227.88 L480.57,227.45 L481.00,227.01 L481.40,226.56 L481.80,226.09 L482.18,225.62 L482.56,225.14 L482.92,224.64 L483.26,224.13 L483.60,223.62 L483.92,223.09 L484.23,222.56 L484.53,222.02 L484.81,221.47 L485.08,220.91 L485.34,220.35 L485.58,219.78 L485.81,219.20 L486.03,218.61 L486.23,218.02 L486.42,217.42 L486.60,216.82 L486.76,216.22 L486.91,215.61 L487.05,214.99 L487.17,214.37 L487.27,213.75 L487.36,213.12 L487.44,212.49 L487.50,211.86 L487.55,211.23 L487.58,210.60 L487.60,209.96 L487.60,209.50" fill="none" stroke="#ff0000" stroke-width="2.05" stroke-linejoin="round"/>
<path d="M71.90,156.10 L71.98,156.70 L72.06,157.29 L72.15,157.89 L72.24,158.49 L72.34,159.09 L72.44,159.69 L72.55,160.28 L72.66,160.88 L72.78,161.48 L72.90,162.07 L73.02,162.67 L73.16,163.27 L73.29,163.86 L73.43,164.45 L73.58,165.05 L73.73,165.64 L73.88,166.23 L74.04,166.82 L74.21,167.41 L74.38,168.00 L74.55,168.59 L74.73,169.17 L74.92,169.76 L75.11,170.34 L75.30,170.92 L75.50,171.50 L75.70,172.07 L75.91,172.65 L76.13,173.22 L76.35,173.79 L76.57,174.36 L76.80,174.93 L77.03,175.50 L77.27,176.06 L77.52,176.62 L77.77,177.18 L78.02,177.73 L78.28,178.28 L78.54,178.83 L78.81,179.38 L79.09,179.92 L79.37,180.46 L79.65,181.00 L79.94,181.53 L80.24,182.06 L80.54,182.59 L80.84,183.11 L81.15,183.63 L81.47,184.15 L81.79,184.66 L82.12,185.17 L82.45,185.68 L82.78,186.18 L83.12,186.68 L83.47,187.17 L83.82,187.66 L84.18,188.14 L84.54,188.62 L84.91,189.10 L85.28,189.57 L85.66,190.04 L86.04,190.50 L86.43,190.96 L86.82,191.41 L87.22,191.86 L87.62,192.31 L88.03,192.75 L88.44,193.19 L88.85,193.62 L89.27,194.05 L89.70,194.48 L90.12,194.90 L90.56,195.32 L90.99,195.74 L91.43,196.15 L91.87,196.56 L92.32,196.96 L92.77,197.36 L93.23,197.76 L93.68,198.15 L94.15,198.54 L94.61,198.92 L95.08,199.31 L95.55,199.69 L96.02,200.06 L96.50,200.44 L96.98,200.80 L97.46,201.17 L97.95,201.53 L98.44,201.89 L98.93,202.25 L99.42,202.60 L99.92,202.95 L100.41,203.30 L100.91,203.65 L101.42,203.99 L101.92,204.33 L102.43,204.66 L102.93,205.00 L103.44,205.33 L103.96,205.66 L104.47,205.98 L104.99,206.30 L105.50,206.62 L106.02,206.94 L106.54,207.26 L107.06,207.57 L107.58,207.88 L108.11,208.19 L108.63,208.49 L109.16,208.80 L109.68,209.10 L110.21,209.40 L110.74,209.69 L111.27,209.99 L111.80,210.28 L112.33,210.57 L112.87,210.85 L113.40,211.14 L113.93,211.42 L114.47,211.70 L115.01,211.98 L115.55,212.26 L116.08,212.53 L116.63,212.80 L117.17,213.07 L117.71,213.34 L118.25,213.60 L118.80,213.87 L119.34,214.13 L119.89,214.39 L120.43,214.65 L120.98,214.90 L121.53,215.15 L122.08,215.40 L122.63,215.65 L123.18,215.90 L123.73,216.15 L124.29,216.39 L124.84,216.63 L125.40,216.87 L125.95,217.11 L126.51,217.34 L127.07,217.58 L127.62,217.81 L128.18,218.04 L128.74,218.26 L129.30,218.49 L129.87,218.71 L130.43,218.94 L130.99,219.16 L131.56,219.38 L132.12,219.59 L132.69,219.81 L133.25,220.02 L133.82,220.24 L134.39,220.45 L134.95,220.65 L135.52,220.86 L136.09,221.07 L136.66,221.27 L137.23,221.47 L137.81,221.67 L138.38,221.87 L138.95,222.07 L139.52,222.26 L140.10,222.46 L140.67,222.65 L141.25,222.84 L141.82,223.03 L142.40,223.22 L142.98,223.40 L143.56,223.59 L144.14,223.77 L144.71,223.95 L145.29,224.13 L145.87,224.31 L146.45,224.49 L147.04,224.67 L147.62,224.84 L148.20,225.02 L148.78,225.19 L149.37,225.36 L149.95,225.53 L150.53,225.70 L151.12,225.86 L151.70,226.03 L152.29,226.19 L152.87,226.36 L153.46,226.52 L154.05,226.68 L154.63,226.84 L155.22,227.00 L155.81,227.15 L156.40,227.31 L156.99,227.46 L157.58,227.62 L158.17,227.77 L158.76,227.92 L159.35,228.07 L159.94,228.22 L160.53,228.37 L161.12,228.52 L161.71,228.66 L162.30,228.81 L162.89,228.95 L163.49,229.09 L164.08,229.24 L164.67,229.38 L165.27,229.52 L165.86,229.66 L166.45,229.79 L167.05,229.93 L167.64,230.07 L168.23,230.20 L168.83,230.34 L169.42,230.47 L170.02,230.60 L170.61,230.74 L171.21,230.87 L171.81,231.00 L172.40,231.13 L173.00,231.26 L173.59,231.38 L174.19,231.51 L174.78,231.64 L175.38,231.76 L175.98,231.89 L176.57,232.01 L177.17,232.14 L177.77,232.26 L178.36,232.38 L178.96,232.50 L179.56,232.62 L180.15,232.74 L180.75,232.86 L181.35,232.98 L181.95,233.10 L182.54,233.22 L183.14,233.33 L183.74,233.45 L184.34,233.57 L184.93,233.68 L185.53,233.79 L186.13,233.91 L186.73,234.02 L187.33,234.13 L187.93,234.24 L188.52,234.35 L189.12,234.46 L189.72,234.57 L190.32,234.68 L190.92,234.79 L191.52,234.89 L192.12,235.00 L192.71,235.10 L193.31,235.21 L193.91,235.31 L194.51,235.42 L195.11,235.52 L195.71,235.62 L196.31,235.72 L196.91,235.82 L197.51,235.92 L198.11,236.02 L198.71,236.12 L199.31,236.21 L199.91,236.31 L200.51,236.41 L201.11,236.50 L201.71,236.60 L202.31,236.69 L202.91,236.78 L203.51,236.88 L204.11,236.97 L204.71,237.06 L205.31,237.15 L205.91,237.24 L206.51,237.33 L207.11,237.42 L207.72,237.50 L208.32,237.59 L208.92,237.68 L209.52,237.76 L210.12,237.85 L210.72,237.93 L211.32,238.01 L211.92,238.10 L212.53,238.18 L213.13,238.26 L213.73,238.34 L214.33,238.42 L214.93,238.50 L215.53,238.58 L216.14,238.65 L216.74,238.73 L217.34,238.81 L217.94,238.88 L218.54,238.96 L219.15,239.03 L219.75,239.10 L220.35,239.18 L220.95,239.25 L221.55,239.32 L222.16,239.39 L222.76,239.46 L223.36,239.53 L223.97,239.59 L224.57,239.66 L225.17,239.73 L225.77,239.79 L226.38,239.86 L226.98,239.92 L227.58,239.99 L228.19,240.05 L228.79,240.11 L229.39,240.17 L229.99,240.24 L230.60,240.30 L231.20,240.36 L231.80,240.41 L232.41,240.47 L233.01,240.53 L233.61,240.59 L234.22,240.64 L234.82,240.70 L235.43,240.75 L236.03,240.80 L236.63,240.86 L237.24,240.91 L237.84,240.96 L238.44,241.01 L239.05,241.06 L239.65,241.11 L240.26,241.16 L240.86,241.21 L241.46,241.25 L242.07,241.30 L242.67,241.35 L243.28,241.39 L243.88,241.44 L244.49,241.48 L245.09,241.52 L245.69,241.56 L246.30,241.61 L246.90,241.65 L247.51,241.69 L248.11,241.72 L248.72,241.76 L249.32,241.80 L249.93,241.84 L250.53,241.87 L251.13,241.91 L251.74,241.94 L252.34,241.98 L252.95,242.01 L253.55,242.04 L254.16,242.08 L254.76,242.11 L255.37,242.14 L255.97,242.17 L256.58,242.20 L257.18,242.22 L257.79,242.25 L258.39,242.28 L259.00,242.30 L259.60,242.33 L260.21,242.35 L260.81,242.38 L261.42,242.40 L262.02,242.42 L262.63,242.44 L263.23,242.46 L263.84,242.49 L264.44,242.50 L265.05,242.52 L265.65,242.54 L266.26,242.56 L266.87,242.57 L267.47,242.59 L268.08,242.61 L268.68,242.62 L269.29,242.63 L269.89,242.65 L270.50,242.66 L271.10,242.67 L271.71,242.68 L272.31,242.69 L272.92,242.70 L273.53,242.71 L274.13,242.71 L274.74,242.72 L275.34,242.73 L275.95,242.73 L276.55,242.74 L277.16,242.74 L277.76,242.74 L278.37,242.75 L278.97,242.75 L279.58,242.75 L280.19,242.75 L280.79,242.75 L281.40,242.75 L282.00,242.75 L282.61,242.74 L283.21,242.74 L283.82,242.74 L284.43,242.73 L285.03,242.73 L285.64,242.72 L286.24,242.71 L286.85,242.70 L287.45,242.70 L288.06,242.69 L288.66,242.68 L289.27,242.66 L289.88,242.65 L290.48,242.64 L291.09,242.63 L291.69,242.61 L292.30,242.60 L292.90,242.58 L293.51,242.57 L294.11,242.55 L294.72,242.53 L295.33,242.52 L295.93,242.50 L296.54,242.48 L297.14,242.46 L297.75,242.44 L298.35,242.41 L298.96,242.39 L299.56,242.37 L300.17,242.34 L300.77,242.32 L301.38,242.29 L301.98,242.27 L302.59,242.24 L303.20,242.21 L303.80,242.18 L304.41,242.15 L305.01,242.12 L305.62,242.09 L306.22,242.06 L306.83,242.03 L307.43,241.99 L308.04,241.96 L308.64,241.93 L309.25,241.89 L309.85,241.85 L310.46,241.82 L311.06,241.78 L311.67,241.74 L312.27,241.70 L312.87,241.66 L313.48,241.62 L314.08,241.58 L314.69,241.54 L315.29,241.50 L315.90,241.45 L316.50,241.41 L317.11,241.36 L317.71,241.32 L318.32,241.27 L318.92,241.22 L319.52,241.17 L320.13,241.13 L320.73,241.08 L321.34,241.03 L321.94,240.97 L322.54,240.92 L323.15,240.87 L323.75,240.82 L324.36,240.76 L324.96,240.71 L325.56,240.65 L326.17,240.60 L326.77,240.54 L327.37,240.48 L327.98,240.42 L328.58,240.36 L329.18,240.30 L329.79,240.24 L330.39,240.18 L330.99,240.12 L331.60,240.05 L332.20,239.99 L332.80,239.93 L333.41,239.86 L334.01,239.79 L334.61,239.73 L335.21,239.66 L335.82,239.59 L336.42,239.52 L337.02,239.45 L337.62,239.38 L338.23,239.31 L338.83,239.24 L339.43,239.17 L340.03,239.09 L340.64,239.02 L341.24,238.94 L341.84,238.87 L342.44,238.79 L343.04,238.71 L343.65,238.63 L344.25,238.56 L344.85,238.48 L345.45,238.39 L346.05,238.31 L346.65,238.23 L347.25,238.15 L347.85,238.07 L348.46,237.98 L349.06,237.90 L349.66,237.81 L350.26,237.72 L350.86,237.64 L351.46,237.55 L352.06,237.46 L352.66,237.37 L353.26,237.28 L353.86,237.19 L354.46,237.10 L355.06,237.00 L355.66,236.91 L356.26,236.82 L356.86,236.72 L357.46,236.63 L358.06,236.53 L358.66,236.43 L359.26,236.34 L359.86,236.24 L360.46,236.14 L361.05,236.04 L361.65,235.94 L362.25,235.83 L362.85,235.73 L363.45,235.63 L364.05,235.53 L364.65,235.42 L365.24,235.31 L365.84,235.21 L366.44,235.10 L367.04,234.99 L367.64,234.89 L368.23,234.78 L368.83,234.67 L369.43,234.56 L370.03,234.44 L370.62,234.33 L371.22,234.22 L371.82,234.10 L372.41,233.99 L373.01,233.87 L373.61,233.76 L374.20,233.64 L374.80,233.52 L375.40,233.40 L375.99,233.29 L376.59,233.17 L377.18,233.05 L377.78,232.92 L378.38,232.80 L378.97,232.68 L379.57,232.55 L380.16,232.43 L380.76,232.30 L381.35,232.18 L381.95,232.05 L382.54,231.92 L383.14,231.80 L383.73,231.67 L384.32,231.54 L384.92,231.41 L385.51,231.27 L386.11,231.14 L386.70,231.01 L387.29,230.88 L387.89,230.74 L388.48,230.61 L389.07,230.47 L389.67,230.33 L390.26,230.19 L390.85,230.06 L391.44,229.92 L392.04,229.78 L392.63,229.64 L393.22,229.50 L393.81,229.35 L394.41,229.21 L395.00,229.07 L395.59,228.92 L396.18,228.78 L396.77,228.63 L397.36,228.48 L397.95,228.34 L398.54,228.19 L399.13,228.04 L399.72,227.89 L400.31,227.74 L400.90,227.59 L401.49,227.43 L402.08,227.28 L402.67,227.13 L403.26,226.97 L403.85,226.82 L404.44,226.66 L405.03,226.50 L405.62,226.34 L406.20,226.18 L406.79,226.02 L407.38,225.86 L407.97,225.70 L408.55,225.53 L409.14,225.37 L409.72,225.20 L410.31,225.03 L410.90,224.87 L411.48,224.70 L412.06,224.53 L412.65,224.35 L413.23,224.18 L413.81,224.00 L414.40,223.83 L414.98,223.65 L415.56,223.47 L416.14,223.29 L416.72,223.11 L417.30,222.93 L417.88,222.74 L418.46,222.56 L419.03,222.37 L419.61,222.18 L420.19,221.99 L420.76,221.80 L421.34,221.61 L421.91,221.41 L422.49,221.22 L423.06,221.02 L423.64,220.82 L424.21,220.62 L424.78,220.41 L425.35,220.21 L425.92,220.00 L426.49,219.79 L427.06,219.58 L427.62,219.37 L428.19,219.16 L428.76,218.94 L429.32,218.72 L429.89,218.51 L430.45,218.28 L431.01,218.06 L431.57,217.84 L432.14,217.61 L432.70,217.38 L433.25,217.15 L433.81,216.92 L434.37,216.68 L434.93,216.44 L435.48,216.21 L436.04,215.96 L436.59,215.72 L437.14,215.47 L437.69,215.23 L438.24,214.98 L438.79,214.73 L439.34,214.47 L439.89,214.21 L440.43,213.96 L440.98,213.69 L441.52,213.43 L442.07,213.16 L442.61,212.90 L443.15,212.63 L443.69,212.35 L444.23,212.08 L444.76,211.80 L445.30,211.52 L445.83,211.24 L446.37,210.95 L446.90,210.66 L447.43,210.37 L447.96,210.08 L448.49,209.78 L449.01,209.49 L449.54,209.18 L450.06,208.88 L450.59,208.57 L451.11,208.27 L451.63,207.95 L452.15,207.64 L452.67,207.32 L453.18,207.00 L453.70,206.68 L454.21,206.35 L454.72,206.03 L455.23,205.69 L455.74,205.36 L456.24,205.02 L456.75,204.68 L457.25,204.34 L457.75,203.99 L458.25,203.65 L458.74,203.29 L459.24,202.94 L459.73,202.58 L460.22,202.22 L460.70,201.86 L461.19,201.49 L461.67,201.12 L462.14,200.75 L462.62,200.37 L463.09,199.99 L463.56,199.61 L464.03,199.22 L464.49,198.83 L464.95,198.44 L465.41,198.05 L465.86,197.65 L466.31,197.24 L466.76,196.84 L467.21,196.43 L467.65,196.02 L468.08,195.60 L468.52,195.19 L468.95,194.76 L469.37,194.34 L469.80,193.91 L470.21,193.48 L470.63,193.04 L471.04,192.60 L471.44,192.16 L471.85,191.71 L472.24,191.26 L472.64,190.81 L473.03,190.35 L473.45,189.85 L473.87,189.34 L474.28,188.82 L474.69,188.30 L475.09,187.78 L475.48,187.25 L475.87,186.71 L476.22,186.23 L476.56,185.73 L476.90,185.24 L477.23,184.74 L477.56,184.23 L477.88,183.73 L478.20,183.22 L478.51,182.70 L478.82,182.18 L479.12,181.66 L479.42,181.13 L479.71,180.60 L479.99,180.07 L480.27,179.53 L480.54,178.99 L480.81,178.44 L481.07,177.90 L481.33,177.35 L481.58,176.79 L481.83,176.24 L482.07,175.68 L482.31,175.11 L482.54,174.55 L482.76,173.98 L482.98,173.41 L483.20,172.84 L483.41,172.26 L483.61,171.69 L483.81,171.11 L484.01,170.53 L484.20,169.94 L484.38,169.36 L484.56,168.77 L484.73,168.18 L484.90,167.59 L485.07,167.00 L485.22,166.41 L485.38,165.82 L485.53,165.22 L485.67,164.62 L485.81,164.03 L485.94,163.43 L486.07,162.83 L486.20,162.23 L486.32,161.63 L486.43,161.03 L486.54,160.43 L486.65,159.83 L486.75,159.23 L486.85,158.63 L486.94,158.02 L487.02,157.42 L487.11,156.82 L487.18,156.22 L487.20,156.10" fill="none" stroke="#ff0000" stroke-width="2.25" stroke-linejoin="round" stroke-dasharray="2.6 0.85"/>
<path d="M71.50,257.85 L72.09,258.06 L72.69,258.26 L73.29,258.47 L73.88,258.67 L74.48,258.86 L75.08,259.06 L75.68,259.25 L76.27,259.44 L76.87,259.62 L77.47,259.81 L78.07,259.99 L78.68,260.16 L79.28,260.34 L79.88,260.51 L80.48,260.68 L81.09,260.85 L81.69,261.02 L82.30,261.18 L82.90,261.34 L83.51,261.50 L84.11,261.66 L84.72,261.81 L85.33,261.96 L85.93,262.11 L86.54,262.26 L87.15,262.40 L87.76,262.55 L88.37,262.69 L88.98,262.82 L89.59,262.96 L90.20,263.09 L90.81,263.23 L91.42,263.35 L92.03,263.48 L92.65,263.61 L93.26,263.73 L93.87,263.85 L94.49,263.97 L95.10,264.09 L95.71,264.21 L96.33,264.32 L96.95,264.43 L97.56,264.54 L98.18,264.65 L98.79,264.76 L99.41,264.86 L100.03,264.97 L100.65,265.07 L101.26,265.17 L101.88,265.27 L102.50,265.36 L103.12,265.46 L103.74,265.55 L104.36,265.64 L104.98,265.73 L105.60,265.82 L106.22,265.91 L106.84,265.99 L107.46,266.08 L108.08,266.16 L108.70,266.24 L109.33,266.32 L109.95,266.40 L110.57,266.48 L111.19,266.55 L111.82,266.63 L112.44,266.70 L113.06,266.77 L113.69,266.84 L114.31,266.91 L114.93,266.98 L115.56,267.05 L116.18,267.11 L116.81,267.18 L117.43,267.24 L118.06,267.31 L118.68,267.37 L119.31,267.43 L119.93,267.49 L120.56,267.55 L121.19,267.61 L121.81,267.66 L122.44,267.72 L123.06,267.77 L123.69,267.83 L124.32,267.88 L124.95,267.93 L125.57,267.99 L126.20,268.04 L126.83,268.09 L127.45,268.14 L128.08,268.19 L128.71,268.24 L129.34,268.28 L129.96,268.33 L130.59,268.38 L131.22,268.42 L131.85,268.47 L132.48,268.51 L133.10,268.56 L133.73,268.60 L134.36,268.65 L134.99,268.69 L135.62,268.73 L136.24,268.77 L136.87,268.82 L137.50,268.86 L138.13,268.90 L138.76,268.94 L139.39,268.98 L140.01,269.02 L140.64,269.06 L141.27,269.10 L141.90,269.14 L142.53,269.18 L143.16,269.22 L143.78,269.26 L144.41,269.30 L145.04,269.34 L145.67,269.38 L146.30,269.41 L146.92,269.45 L147.55,269.49 L148.18,269.53 L148.81,269.57 L149.44,269.60 L150.06,269.64 L150.69,269.68 L151.32,269.72 L151.95,269.75 L152.58,269.79 L153.20,269.82 L153.83,269.86 L154.46,269.90 L155.09,269.93 L155.72,269.97 L156.34,270.00 L156.97,270.04 L157.60,270.07 L158.23,270.11 L158.86,270.14 L159.48,270.18 L160.11,270.21 L160.74,270.24 L161.37,270.28 L161.99,270.31 L162.62,270.34 L163.25,270.38 L163.88,270.41 L164.51,270.44 L165.13,270.47 L165.76,270.51 L166.39,270.54 L167.02,270.57 L167.64,270.60 L168.27,270.63 L168.90,270.67 L169.53,270.70 L170.16,270.73 L170.78,270.76 L171.41,270.79 L172.04,270.82 L172.67,270.85 L173.29,270.88 L173.92,270.91 L174.55,270.94 L175.18,270.97 L175.80,271.00 L176.43,271.03 L177.06,271.05 L177.69,271.08 L178.31,271.11 L178.94,271.14 L179.57,271.17 L180.20,271.20 L180.82,271.22 L181.45,271.25 L182.08,271.28 L182.71,271.30 L183.33,271.33 L183.96,271.36 L184.59,271.38 L185.22,271.41 L185.84,271.44 L186.47,271.46 L187.10,271.49 L187.73,271.51 L188.35,271.54 L188.98,271.57 L189.61,271.59 L190.24,271.61 L190.86,271.64 L191.49,271.66 L192.12,271.69 L192.75,271.71 L193.37,271.74 L194.00,271.76 L194.63,271.78 L195.26,271.81 L195.88,271.83 L196.51,271.85 L197.14,271.88 L197.77,271.90 L198.39,271.92 L199.02,271.94 L199.65,271.97 L200.27,271.99 L200.90,272.01 L201.53,272.03 L202.16,272.05 L202.78,272.07 L203.41,272.09 L204.04,272.12 L204.67,272.14 L205.29,272.16 L205.92,272.18 L206.55,272.20 L207.18,272.22 L207.80,272.24 L208.43,272.26 L209.06,272.28 L209.68,272.29 L210.31,272.31 L210.94,272.33 L211.57,272.35 L212.19,272.37 L212.82,272.39 L213.45,272.41 L214.08,272.42 L214.70,272.44 L215.33,272.46 L215.96,272.48 L216.59,272.49 L217.21,272.51 L217.84,272.53 L218.47,272.55 L219.09,272.56 L219.72,272.58 L220.35,272.60 L220.98,272.61 L221.60,272.63 L222.23,272.64 L222.86,272.66 L223.49,272.67 L224.11,272.69 L224.74,272.70 L225.37,272.72 L226.00,272.73 L226.62,272.75 L227.25,272.76 L227.88,272.78 L228.51,272.79 L229.13,272.81 L229.76,272.82 L230.39,272.83 L231.01,272.85 L231.64,272.86 L232.27,272.87 L232.90,272.89 L233.52,272.90 L234.15,272.91 L234.78,272.92 L235.41,272.94 L236.03,272.95 L236.66,272.96 L237.29,272.97 L237.92,272.98 L238.54,273.00 L239.17,273.01 L239.80,273.02 L240.43,273.03 L241.05,273.04 L241.68,273.05 L242.31,273.06 L242.94,273.07 L243.56,273.08 L244.19,273.09 L244.82,273.10 L245.44,273.11 L246.07,273.12 L246.70,273.13 L247.33,273.14 L247.95,273.15 L248.58,273.16 L249.21,273.17 L249.84,273.18 L250.46,273.18 L251.09,273.19 L251.72,273.20 L252.35,273.21 L252.97,273.22 L253.60,273.22 L254.23,273.23 L254.86,273.24 L255.49,273.25 L256.11,273.25 L256.74,273.26 L257.37,273.27 L258.00,273.27 L258.62,273.28 L259.25,273.29 L259.88,273.29 L260.51,273.30 L261.13,273.31 L261.76,273.31 L262.39,273.32 L263.02,273.32 L263.64,273.33 L264.27,273.33 L264.90,273.34 L265.53,273.34 L266.16,273.35 L266.78,273.35 L267.41,273.36 L268.04,273.36 L268.67,273.36 L269.29,273.37 L269.92,273.37 L270.55,273.38 L271.18,273.38 L271.81,273.38 L272.43,273.39 L273.06,273.39 L273.69,273.39 L274.32,273.39 L274.94,273.40 L275.57,273.40 L276.20,273.40 L276.83,273.40 L277.46,273.41 L278.08,273.41 L278.71,273.41 L279.34,273.41 L279.97,273.41 L280.60,273.41 L281.22,273.42 L281.85,273.42 L282.48,273.42 L283.11,273.42 L283.74,273.42 L284.36,273.42 L284.99,273.42 L285.62,273.42 L286.25,273.42 L286.88,273.42 L287.51,273.42 L288.13,273.42 L288.76,273.42 L289.39,273.42 L290.02,273.42 L290.65,273.42 L291.27,273.42 L291.90,273.41 L292.53,273.41 L293.16,273.41 L293.79,273.41 L294.42,273.41 L295.04,273.40 L295.67,273.40 L296.30,273.40 L296.93,273.40 L297.56,273.39 L298.18,273.39 L298.81,273.39 L299.44,273.39 L300.07,273.38 L300.70,273.38 L301.33,273.37 L301.95,273.37 L302.58,273.37 L303.21,273.36 L303.84,273.36 L304.47,273.35 L305.10,273.35 L305.72,273.34 L306.35,273.34 L306.98,273.33 L307.61,273.33 L308.24,273.32 L308.87,273.32 L309.49,273.31 L310.12,273.30 L310.75,273.30 L311.38,273.29 L312.01,273.28 L312.64,273.28 L313.27,273.27 L313.89,273.26 L314.52,273.26 L315.15,273.25 L315.78,273.24 L316.41,273.23 L317.04,273.22 L317.66,273.22 L318.29,273.21 L318.92,273.20 L319.55,273.19 L320.18,273.18 L320.81,273.17 L321.43,273.16 L322.06,273.15 L322.69,273.14 L323.32,273.13 L323.95,273.12 L324.58,273.11 L325.21,273.10 L325.83,273.09 L326.46,273.08 L327.09,273.07 L327.72,273.06 L328.35,273.04 L328.98,273.03 L329.60,273.02 L330.23,273.01 L330.86,273.00 L331.49,272.98 L332.12,272.97 L332.75,272.96 L333.37,272.94 L334.00,272.93 L334.63,272.92 L335.26,272.90 L335.89,272.89 L336.52,272.87 L337.14,272.86 L337.77,272.85 L338.40,272.83 L339.03,272.81 L339.66,272.80 L340.29,272.78 L340.92,272.77 L341.54,272.75 L342.17,272.74 L342.80,272.72 L343.43,272.70 L344.06,272.69 L344.68,272.67 L345.31,272.65 L345.94,272.63 L346.57,272.62 L347.20,272.60 L347.83,272.58 L348.45,272.56 L349.08,272.54 L349.71,272.52 L350.34,272.51 L350.97,272.49 L351.60,272.47 L352.22,272.45 L352.85,272.43 L353.48,272.41 L354.11,272.39 L354.74,272.37 L355.37,272.34 L355.99,272.32 L356.62,272.30 L357.25,272.28 L357.88,272.26 L358.51,272.24 L359.13,272.21 L359.76,272.19 L360.39,272.17 L361.02,272.15 L361.65,272.12 L362.27,272.10 L362.90,272.08 L363.53,272.05 L364.16,272.03 L364.79,272.00 L365.41,271.98 L366.04,271.95 L366.67,271.93 L367.30,271.90 L367.93,271.88 L368.55,271.85 L369.18,271.82 L369.81,271.80 L370.44,271.77 L371.07,271.74 L371.69,271.72 L372.32,271.69 L372.95,271.66 L373.58,271.63 L374.20,271.61 L374.83,271.58 L375.46,271.55 L376.09,271.52 L376.72,271.49 L377.34,271.46 L377.97,271.43 L378.60,271.40 L379.23,271.37 L379.85,271.34 L380.48,271.31 L381.11,271.28 L381.74,271.25 L382.36,271.22 L382.99,271.18 L383.62,271.15 L384.25,271.12 L384.87,271.09 L385.50,271.05 L386.13,271.02 L386.76,270.99 L387.38,270.95 L388.01,270.92 L388.64,270.89 L389.27,270.85 L389.89,270.82 L390.52,270.78 L391.15,270.75 L391.78,270.71 L392.40,270.67 L393.03,270.64 L393.66,270.60 L394.28,270.57 L394.91,270.53 L395.54,270.49 L396.17,270.45 L396.79,270.42 L397.42,270.38 L398.05,270.34 L398.67,270.30 L399.30,270.26 L399.93,270.22 L400.56,270.18 L401.18,270.14 L401.81,270.10 L402.44,270.06 L403.06,270.02 L403.69,269.98 L404.32,269.94 L404.94,269.90 L405.57,269.86 L406.20,269.81 L406.82,269.77 L407.45,269.73 L408.08,269.69 L408.70,269.64 L409.33,269.60 L409.96,269.56 L410.58,269.51 L411.21,269.47 L411.84,269.42 L412.46,269.38 L413.09,269.33 L413.72,269.29 L414.34,269.24 L414.97,269.19 L415.59,269.15 L416.22,269.10 L416.85,269.05 L417.47,269.01 L418.10,268.96 L418.73,268.91 L419.35,268.86 L419.98,268.81 L420.60,268.76 L421.23,268.72 L421.86,268.67 L422.48,268.62 L423.11,268.57 L423.73,268.51 L424.36,268.46 L424.99,268.41 L425.61,268.36 L426.24,268.31 L426.86,268.26 L427.49,268.20 L428.12,268.15 L428.74,268.10 L429.37,268.05 L429.99,267.99 L430.62,267.94 L431.24,267.88 L431.87,267.83 L432.49,267.77 L433.12,267.72 L433.75,267.66 L434.37,267.61 L435.00,267.55 L435.62,267.49 L436.25,267.44 L436.87,267.38 L437.50,267.32 L438.12,267.26 L438.75,267.21 L439.37,267.15 L440.00,267.09 L440.62,267.03 L441.25,266.97 L441.87,266.91 L442.50,266.85 L443.12,266.79 L443.75,266.72 L444.37,266.66 L445.00,266.60 L445.62,266.53 L446.24,266.47 L446.87,266.40 L447.49,266.34 L448.12,266.27 L448.74,266.20 L449.36,266.13 L449.99,266.06 L450.61,265.99 L451.23,265.91 L451.85,265.84 L452.48,265.76 L453.10,265.69 L453.72,265.61 L454.34,265.53 L454.96,265.45 L455.58,265.37 L456.20,265.28 L456.83,265.20 L457.45,265.11 L458.07,265.02 L458.68,264.93 L459.30,264.84 L459.92,264.75 L460.54,264.65 L461.16,264.55 L461.78,264.45 L462.39,264.35 L463.01,264.25 L463.63,264.14 L464.24,264.04 L464.86,263.93 L465.47,263.82 L466.09,263.70 L466.70,263.59 L467.32,263.47 L467.93,263.35 L468.54,263.22 L469.16,263.10 L469.77,262.97 L470.38,262.84 L470.99,262.71 L471.60,262.57 L472.21,262.43 L472.82,262.29 L473.43,262.15 L474.04,262.00 L474.64,261.85 L475.25,261.70 L475.86,261.54 L476.46,261.38 L477.07,261.22 L477.67,261.06 L478.28,260.89 L478.88,260.72 L479.48,260.55 L480.09,260.37 L480.69,260.19 L481.29,260.01 L481.89,259.82 L482.49,259.63 L483.09,259.44 L483.68,259.24 L484.28,259.04 L484.88,258.84 L485.47,258.63 L486.07,258.42 L486.66,258.20 L487.25,257.98 L487.60,257.85" fill="none" stroke="#0000ff" stroke-width="2.05" stroke-linejoin="round"/>
<path d="M71.50,236.80 L72.06,237.10 L72.63,237.39 L73.19,237.68 L73.76,237.97 L74.33,238.25 L74.90,238.53 L75.47,238.81 L76.04,239.08 L76.62,239.35 L77.19,239.62 L77.77,239.88 L78.34,240.14 L78.92,240.39 L79.50,240.65 L80.08,240.90 L80.66,241.14 L81.25,241.39 L81.83,241.63 L82.42,241.86 L83.00,242.10 L83.59,242.33 L84.18,242.56 L84.77,242.78 L85.36,243.01 L85.95,243.23 L86.54,243.44 L87.13,243.66 L87.73,243.87 L88.32,244.08 L88.92,244.29 L89.52,244.49 L90.11,244.69 L90.71,244.89 L91.31,245.09 L91.91,245.28 L92.51,245.48 L93.11,245.67 L93.72,245.85 L94.32,246.04 L94.92,246.22 L95.53,246.40 L96.13,246.58 L96.74,246.76 L97.35,246.93 L97.95,247.11 L98.56,247.28 L99.17,247.45 L99.78,247.62 L100.39,247.78 L101.00,247.94 L101.61,248.11 L102.22,248.27 L102.83,248.42 L103.44,248.58 L104.06,248.74 L104.67,248.89 L105.29,249.04 L105.90,249.19 L106.52,249.34 L107.13,249.48 L107.75,249.63 L108.36,249.77 L108.98,249.91 L109.60,250.05 L110.22,250.19 L110.84,250.33 L111.45,250.46 L112.07,250.60 L112.69,250.73 L113.31,250.86 L113.94,250.99 L114.56,251.12 L115.18,251.25 L115.80,251.37 L116.42,251.50 L117.04,251.62 L117.67,251.74 L118.29,251.86 L118.91,251.98 L119.54,252.10 L120.16,252.21 L120.79,252.33 L121.41,252.44 L122.04,252.56 L122.66,252.67 L123.29,252.78 L123.91,252.89 L124.54,253.00 L125.17,253.11 L125.79,253.22 L126.42,253.32 L127.05,253.43 L127.67,253.53 L128.30,253.64 L128.93,253.74 L129.56,253.84 L130.19,253.94 L130.81,254.04 L131.44,254.14 L132.07,254.24 L132.70,254.33 L133.33,254.43 L133.96,254.53 L134.59,254.62 L135.22,254.72 L135.85,254.81 L136.48,254.91 L137.11,255.00 L137.73,255.09 L138.36,255.18 L138.99,255.27 L139.62,255.36 L140.25,255.45 L140.88,255.54 L141.51,255.63 L142.14,255.72 L142.77,255.81 L143.40,255.90 L144.03,255.98 L144.66,256.07 L145.29,256.16 L145.92,256.24 L146.55,256.33 L147.18,256.41 L147.81,256.50 L148.44,256.58 L149.07,256.66 L149.70,256.75 L150.33,256.83 L150.96,256.91 L151.59,256.99 L152.22,257.07 L152.85,257.15 L153.48,257.23 L154.12,257.31 L154.75,257.39 L155.38,257.47 L156.01,257.55 L156.64,257.63 L157.27,257.70 L157.90,257.78 L158.53,257.86 L159.16,257.93 L159.79,258.01 L160.42,258.08 L161.05,258.16 L161.68,258.23 L162.31,258.30 L162.94,258.38 L163.57,258.45 L164.20,258.52 L164.83,258.59 L165.47,258.67 L166.10,258.74 L166.73,258.81 L167.36,258.88 L167.99,258.95 L168.62,259.01 L169.25,259.08 L169.88,259.15 L170.51,259.22 L171.14,259.29 L171.77,259.35 L172.41,259.42 L173.04,259.48 L173.67,259.55 L174.30,259.61 L174.93,259.68 L175.56,259.74 L176.19,259.81 L176.82,259.87 L177.46,259.93 L178.09,259.99 L178.72,260.06 L179.35,260.12 L179.98,260.18 L180.61,260.24 L181.24,260.30 L181.87,260.36 L182.51,260.42 L183.14,260.48 L183.77,260.53 L184.40,260.59 L185.03,260.65 L185.66,260.71 L186.30,260.76 L186.93,260.82 L187.56,260.87 L188.19,260.93 L188.82,260.98 L189.45,261.04 L190.09,261.09 L190.72,261.15 L191.35,261.20 L191.98,261.25 L192.61,261.30 L193.24,261.35 L193.88,261.41 L194.51,261.46 L195.14,261.51 L195.77,261.56 L196.40,261.61 L197.04,261.66 L197.67,261.71 L198.30,261.75 L198.93,261.80 L199.56,261.85 L200.20,261.90 L200.83,261.94 L201.46,261.99 L202.09,262.04 L202.72,262.08 L203.36,262.13 L203.99,262.17 L204.62,262.21 L205.25,262.26 L205.88,262.30 L206.52,262.35 L207.15,262.39 L207.78,262.43 L208.41,262.47 L209.05,262.51 L209.68,262.55 L210.31,262.59 L210.94,262.63 L211.58,262.67 L212.21,262.71 L212.84,262.75 L213.47,262.79 L214.11,262.83 L214.74,262.87 L215.37,262.91 L216.00,262.94 L216.64,262.98 L217.27,263.01 L217.90,263.05 L218.53,263.09 L219.17,263.12 L219.80,263.16 L220.43,263.19 L221.06,263.22 L221.70,263.26 L222.33,263.29 L222.96,263.32 L223.60,263.36 L224.23,263.39 L224.86,263.42 L225.49,263.45 L226.13,263.48 L226.76,263.51 L227.39,263.54 L228.03,263.57 L228.66,263.60 L229.29,263.63 L229.92,263.66 L230.56,263.69 L231.19,263.71 L231.82,263.74 L232.46,263.77 L233.09,263.79 L233.72,263.82 L234.36,263.85 L234.99,263.87 L235.62,263.90 L236.25,263.92 L236.89,263.95 L237.52,263.97 L238.15,263.99 L238.79,264.02 L239.42,264.04 L240.05,264.06 L240.69,264.08 L241.32,264.10 L241.95,264.13 L242.59,264.15 L243.22,264.17 L243.85,264.19 L244.49,264.21 L245.12,264.23 L245.75,264.25 L246.39,264.27 L247.02,264.28 L247.65,264.30 L248.29,264.32 L248.92,264.34 L249.55,264.35 L250.19,264.37 L250.82,264.39 L251.45,264.40 L252.09,264.42 L252.72,264.43 L253.36,264.45 L253.99,264.46 L254.62,264.48 L255.26,264.49 L255.89,264.51 L256.52,264.52 L257.16,264.53 L257.79,264.54 L258.42,264.56 L259.06,264.57 L259.69,264.58 L260.33,264.59 L260.96,264.60 L261.59,264.61 L262.23,264.62 L262.86,264.63 L263.49,264.64 L264.13,264.65 L264.76,264.66 L265.40,264.67 L266.03,264.67 L266.66,264.68 L267.30,264.69 L267.93,264.70 L268.57,264.70 L269.20,264.71 L269.83,264.72 L270.47,264.72 L271.10,264.73 L271.73,264.73 L272.37,264.74 L273.00,264.74 L273.64,264.74 L274.27,264.75 L274.90,264.75 L275.54,264.75 L276.17,264.76 L276.81,264.76 L277.44,264.76 L278.08,264.76 L278.71,264.77 L279.34,264.77 L279.98,264.77 L280.61,264.77 L281.25,264.77 L281.88,264.77 L282.51,264.77 L283.15,264.77 L283.78,264.77 L284.42,264.76 L285.05,264.76 L285.69,264.76 L286.32,264.76 L286.95,264.75 L287.59,264.75 L288.22,264.75 L288.86,264.74 L289.49,264.74 L290.12,264.74 L290.76,264.73 L291.39,264.73 L292.03,264.72 L292.66,264.71 L293.30,264.71 L293.93,264.70 L294.57,264.69 L295.20,264.69 L295.83,264.68 L296.47,264.67 L297.10,264.66 L297.74,264.66 L298.37,264.65 L299.01,264.64 L299.64,264.63 L300.27,264.62 L300.91,264.61 L301.54,264.60 L302.18,264.59 L302.81,264.57 L303.45,264.56 L304.08,264.55 L304.71,264.54 L305.35,264.52 L305.98,264.51 L306.62,264.50 L307.25,264.48 L307.89,264.47 L308.52,264.46 L309.15,264.44 L309.79,264.42 L310.42,264.41 L311.06,264.39 L311.69,264.38 L312.33,264.36 L312.96,264.34 L313.59,264.32 L314.23,264.31 L314.86,264.29 L315.50,264.27 L316.13,264.25 L316.76,264.23 L317.40,264.21 L318.03,264.19 L318.67,264.17 L319.30,264.15 L319.94,264.13 L320.57,264.10 L321.20,264.08 L321.84,264.06 L322.47,264.04 L323.11,264.01 L323.74,263.99 L324.37,263.97 L325.01,263.94 L325.64,263.92 L326.28,263.89 L326.91,263.86 L327.54,263.84 L328.18,263.81 L328.81,263.79 L329.45,263.76 L330.08,263.73 L330.71,263.70 L331.35,263.67 L331.98,263.64 L332.62,263.61 L333.25,263.58 L333.88,263.55 L334.52,263.52 L335.15,263.49 L335.78,263.46 L336.42,263.43 L337.05,263.40 L337.68,263.36 L338.32,263.33 L338.95,263.30 L339.59,263.26 L340.22,263.23 L340.85,263.20 L341.49,263.16 L342.12,263.12 L342.75,263.09 L343.39,263.05 L344.02,263.01 L344.65,262.98 L345.29,262.94 L345.92,262.90 L346.55,262.86 L347.19,262.82 L347.82,262.78 L348.45,262.74 L349.09,262.70 L349.72,262.66 L350.35,262.62 L350.99,262.58 L351.62,262.54 L352.25,262.50 L352.88,262.45 L353.52,262.41 L354.15,262.37 L354.78,262.32 L355.42,262.28 L356.05,262.23 L356.68,262.19 L357.31,262.14 L357.95,262.09 L358.58,262.05 L359.21,262.00 L359.84,261.95 L360.48,261.90 L361.11,261.85 L361.74,261.80 L362.37,261.75 L363.01,261.70 L363.64,261.65 L364.27,261.60 L364.90,261.55 L365.54,261.50 L366.17,261.45 L366.80,261.39 L367.43,261.34 L368.06,261.29 L368.70,261.23 L369.33,261.18 L369.96,261.12 L370.59,261.07 L371.22,261.01 L371.86,260.95 L372.49,260.90 L373.12,260.84 L373.75,260.78 L374.38,260.72 L375.01,260.66 L375.65,260.60 L376.28,260.54 L376.91,260.48 L377.54,260.42 L378.17,260.36 L378.80,260.30 L379.43,260.24 L380.07,260.17 L380.70,260.11 L381.33,260.05 L381.96,259.98 L382.59,259.92 L383.22,259.85 L383.85,259.79 L384.48,259.72 L385.11,259.65 L385.74,259.58 L386.37,259.52 L387.01,259.45 L387.64,259.38 L388.27,259.31 L388.90,259.24 L389.53,259.17 L390.16,259.10 L390.79,259.03 L391.42,258.96 L392.05,258.88 L392.68,258.81 L393.31,258.74 L393.94,258.66 L394.57,258.59 L395.20,258.51 L395.83,258.44 L396.46,258.36 L397.09,258.29 L397.72,258.21 L398.35,258.13 L398.98,258.05 L399.61,257.98 L400.24,257.90 L400.86,257.82 L401.49,257.74 L402.12,257.66 L402.75,257.58 L403.38,257.49 L404.01,257.41 L404.64,257.33 L405.27,257.25 L405.90,257.16 L406.53,257.08 L407.15,256.99 L407.78,256.91 L408.41,256.82 L409.04,256.74 L409.67,256.65 L410.30,256.56 L410.93,256.47 L411.55,256.39 L412.18,256.30 L412.81,256.21 L413.44,256.12 L414.07,256.03 L414.69,255.93 L415.32,255.84 L415.95,255.75 L416.58,255.66 L417.21,255.56 L417.83,255.47 L418.46,255.38 L419.09,255.28 L419.71,255.18 L420.34,255.09 L420.97,254.99 L421.60,254.89 L422.22,254.80 L422.85,254.70 L423.48,254.60 L424.10,254.50 L424.73,254.40 L425.36,254.30 L425.98,254.20 L426.61,254.10 L427.24,253.99 L427.86,253.89 L428.49,253.79 L429.12,253.68 L429.74,253.58 L430.37,253.47 L430.99,253.37 L431.62,253.26 L432.25,253.16 L432.87,253.05 L433.50,252.94 L434.12,252.83 L434.75,252.72 L435.37,252.61 L436.00,252.50 L436.62,252.39 L437.25,252.28 L437.87,252.17 L438.50,252.05 L439.12,251.94 L439.75,251.83 L440.37,251.71 L441.00,251.60 L441.62,251.48 L442.25,251.37 L442.87,251.25 L443.49,251.13 L444.12,251.01 L444.74,250.89 L445.36,250.77 L445.99,250.65 L446.61,250.52 L447.23,250.40 L447.85,250.27 L448.48,250.15 L449.10,250.02 L449.72,249.89 L450.34,249.76 L450.96,249.62 L451.58,249.49 L452.20,249.35 L452.82,249.22 L453.43,249.08 L454.05,248.94 L454.67,248.80 L455.28,248.65 L455.90,248.51 L456.52,248.36 L457.13,248.21 L457.75,248.06 L458.36,247.90 L458.97,247.75 L459.58,247.59 L460.20,247.43 L460.81,247.27 L461.42,247.11 L462.03,246.94 L462.64,246.77 L463.24,246.60 L463.85,246.43 L464.46,246.25 L465.06,246.07 L465.67,245.89 L466.27,245.71 L466.87,245.52 L467.48,245.33 L468.08,245.14 L468.68,244.95 L469.28,244.75 L469.87,244.55 L470.47,244.35 L471.07,244.14 L471.66,243.93 L472.26,243.72 L472.85,243.50 L473.44,243.29 L474.03,243.07 L474.62,242.84 L475.21,242.61 L475.80,242.38 L476.38,242.15 L476.97,241.91 L477.55,241.67 L478.13,241.42 L478.72,241.17 L479.30,240.92 L479.88,240.66 L480.45,240.41 L481.03,240.14 L481.60,239.87 L482.18,239.60 L482.75,239.33 L483.32,239.05 L483.89,238.77 L484.46,238.48 L485.02,238.19 L485.59,237.89 L486.15,237.59 L486.71,237.29 L487.27,236.98 L487.60,236.80" fill="none" stroke="#0000ff" stroke-width="2.25" stroke-linejoin="round" stroke-dasharray="2.6 0.85"/>
<g stroke="#999999" stroke-width="1" fill="none">
<rect x="63.0" y="20.5" width="433.0" height="267.7"/>
<line x1="71.60" y1="288.2" x2="71.60" y2="285.0"/>
<line x1="71.60" y1="20.5" x2="71.60" y2="22.9"/>
<line x1="92.40" y1="288.2" x2="92.40" y2="286.2"/>
<line x1="92.40" y1="20.5" x2="92.40" y2="22.0"/>
<line x1="113.19" y1="288.2" x2="113.19" y2="286.2"/>
<line x1="113.19" y1="20.5" x2="113.19" y2="22.0"/>
<line x1="133.99" y1="288.2" x2="133.99" y2="286.2"/>
<line x1="133.99" y1="20.5" x2="133.99" y2="22.0"/>
<line x1="154.78" y1="288.2" x2="154.78" y2="286.2"/>
<line x1="154.78" y1="20.5" x2="154.78" y2="22.0"/>
<line x1="175.58" y1="288.2" x2="175.58" y2="285.0"/>
<line x1="175.58" y1="20.5" x2="175.58" y2="22.9"/>
<line x1="196.37" y1="288.2" x2="196.37" y2="286.2"/>
<line x1="196.37" y1="20.5" x2="196.37" y2="22.0"/>
<line x1="217.17" y1="288.2" x2="217.17" y2="286.2"/>
<line x1="217.17" y1="20.5" x2="217.17" y2="22.0"/>
<line x1="237.96" y1="288.2" x2="237.96" y2="286.2"/>
<line x1="237.96" y1="20.5" x2="237.96" y2="22.0"/>
<line x1="258.75" y1="288.2" x2="258.75" y2="286.2"/>
<line x1="258.75" y1="20.5" x2="258.75" y2="22.0"/>
<line x1="279.55" y1="288.2" x2="279.55" y2="285.0"/>
<line x1="279.55" y1="20.5" x2="279.55" y2="22.9"/>
<line x1="300.35" y1="288.2" x2="300.35" y2="286.2"/>
<line x1="300.35" y1="20.5" x2="300.35" y2="22.0"/>
<line x1="321.14" y1="288.2" x2="321.14" y2="286.2"/>
<line x1="321.14" y1="20.5" x2="321.14" y2="22.0"/>
<line x1="341.94" y1="288.2" x2="341.94" y2="286.2"/>
<line x1="341.94" y1="20.5" x2="341.94" y2="22.0"/>
<line x1="362.73" y1="288.2" x2="362.73" y2="286.2"/>
<line x1="362.73" y1="20.5" x2="362.73" y2="22.0"/>
<line x1="383.52" y1="288.2" x2="383.52" y2="285.0"/>
<line x1="383.52" y1="20.5" x2="383.52" y2="22.9"/>
<line x1="404.32" y1="288.2" x2="404.32" y2="286.2"/>
<line x1="404.32" y1="20.5" x2="404.32" y2="22.0"/>
<line x1="425.12" y1="288.2" x2="425.12" y2="286.2"/>
<line x1="425.12" y1="20.5" x2="425.12" y2="22.0"/>
<line x1="445.91" y1="288.2" x2="445.91" y2="286.2"/>
<line x1="445.91" y1="20.5" x2="445.91" y2="22.0"/>
<line x1="466.71" y1="288.2" x2="466.71" y2="286.2"/>
<line x1="466.71" y1="20.5" x2="466.71" y2="22.0"/>
<line x1="487.50" y1="288.2" x2="487.50" y2="285.0"/>
<line x1="487.50" y1="20.5" x2="487.50" y2="22.9"/>
<line x1="63.0" y1="282.90" x2="65.4" y2="282.90"/>
<line x1="496.0" y1="282.90" x2="493.6" y2="282.90"/>
<line x1="63.0" y1="271.82" x2="64.6" y2="271.82"/>
<line x1="496.0" y1="271.82" x2="494.4" y2="271.82"/>
<line x1="63.0" y1="260.75" x2="64.6" y2="260.75"/>
<line x1="496.0" y1="260.75" x2="494.4" y2="260.75"/>
<line x1="63.0" y1="249.67" x2="64.6" y2="249.67"/>
<line x1="496.0" y1="249.67" x2="494.4" y2="249.67"/>
<line x1="63.0" y1="238.60" x2="65.4" y2="238.60"/>
<line x1="496.0" y1="238.60" x2="493.6" y2="238.60"/>
<line x1="63.0" y1="227.52" x2="64.6" y2="227.52"/>
<line x1="496.0" y1="227.52" x2="494.4" y2="227.52"/>
<line x1="63.0" y1="216.45" x2="64.6" y2="216.45"/>
<line x1="496.0" y1="216.45" x2="494.4" y2="216.45"/>
<line x1="63.0" y1="205.38" x2="64.6" y2="205.38"/>
<line x1="496.0" y1="205.38" x2="494.4" y2="205.38"/>
<line x1="63.0" y1="194.30" x2="65.4" y2="194.30"/>
<line x1="496.0" y1="194.30" x2="493.6" y2="194.30"/>
<line x1="63.0" y1="183.22" x2="64.6" y2="183.22"/>
<line x1="496.0" y1="183.22" x2="494.4" y2="183.22"/>
<line x1="63.0" y1="172.15" x2="64.6" y2="172.15"/>
<line x1="496.0" y1="172.15" x2="494.4" y2="172.15"/>
<line x1="63.0" y1="161.07" x2="64.6" y2="161.07"/>
<line x1="496.0" y1="161.07" x2="494.4" y2="161.07"/>
<line x1="63.0" y1="150.00" x2="65.4" y2="150.00"/>
<line x1="496.0" y1="150.00" x2="493.6" y2="150.00"/>
<line x1="63.0" y1="138.92" x2="64.6" y2="138.92"/>
<line x1="496.0" y1="138.92" x2="494.4" y2="138.92"/>
<line x1="63.0" y1="127.85" x2="64.6" y2="127.85"/>
<line x1="496.0" y1="127.85" x2="494.4" y2="127.85"/>
<line x1="63.0" y1="116.77" x2="64.6" y2="116.77"/>
<line x1="496.0" y1="116.77" x2="494.4" y2="116.77"/>
<line x1="63.0" y1="105.70" x2="65.4" y2="105.70"/>
<line x1="496.0" y1="105.70" x2="493.6" y2="105.70"/>
<line x1="63.0" y1="94.62" x2="64.6" y2="94.62"/>
<line x1="496.0" y1="94.62" x2="494.4" y2="94.62"/>
<line x1="63.0" y1="83.55" x2="64.6" y2="83.55"/>
<line x1="496.0" y1="83.55" x2="494.4" y2="83.55"/>
<line x1="63.0" y1="72.47" x2="64.6" y2="72.47"/>
<line x1="496.0" y1="72.47" x2="494.4" y2="72.47"/>
<line x1="63.0" y1="61.40" x2="65.4" y2="61.40"/>
<line x1="496.0" y1="61.40" x2="493.6" y2="61.40"/>
<line x1="63.0" y1="50.32" x2="64.6" y2="50.32"/>
<line x1="496.0" y1="50.32" x2="494.4" y2="50.32"/>
<line x1="63.0" y1="39.25" x2="64.6" y2="39.25"/>
<line x1="496.0" y1="39.25" x2="494.4" y2="39.25"/>
<line x1="63.0" y1="28.17" x2="64.6" y2="28.17"/>
<line x1="496.0" y1="28.17" x2="494.4" y2="28.17"/>
</g>
<text transform="translate(56.89,304.50) scale(1.045,1.0)" font-size="15.3" stroke="#000" stroke-width="0.10">−1.0</text>
<text transform="translate(160.89,304.50) scale(1.045,1.0)" font-size="15.3" stroke="#000" stroke-width="0.10">−0.5</text>
<text transform="translate(269.46,304.50) scale(1.045,1.0)" font-size="15.3" stroke="#000" stroke-width="0.10">0.0</text>
<text transform="translate(373.45,304.50) scale(1.045,1.0)" font-size="15.3" stroke="#000" stroke-width="0.10">0.5</text>
<text transform="translate(477.01,304.50) scale(1.045,1.0)" font-size="15.3" stroke="#000" stroke-width="0.10">1.0</text>
<text transform="translate(52.71,288.00) scale(1.045,1.0)" font-size="15.3" stroke="#000" stroke-width="0.10">0</text>
<text transform="translate(52.99,243.70) scale(1.045,1.0)" font-size="15.3" stroke="#000" stroke-width="0.10">2</text>
<text transform="translate(52.35,199.40) scale(1.045,1.0)" font-size="15.3" stroke="#000" stroke-width="0.10">4</text>
<text transform="translate(52.59,155.10) scale(1.045,1.0)" font-size="15.3" stroke="#000" stroke-width="0.10">6</text>
<text transform="translate(52.71,110.80) scale(1.045,1.0)" font-size="15.3" stroke="#000" stroke-width="0.10">8</text>
<text transform="translate(44.71,66.50) scale(1.045,1.0)" font-size="15.3" stroke="#000" stroke-width="0.10">10</text>
<text transform="translate(261.18,326.90) scale(0.990,1.0)" font-size="16.6" stroke="#000" stroke-width="0.20">cos</text>
<text transform="translate(281.86,326.90) scale(1.611,1.0)" font-size="13.6" class="i" stroke="#fff" stroke-width="0.04">θ</text>
<text transform="translate(292.83,328.40) scale(1.176,1.0)" font-size="11.5" class="i">s</text>
<text transform="translate(116.51,13.60) scale(1.193,1.0)" font-size="16.5" class="i" stroke="#000" stroke-width="0.10">m</text>
<text transform="translate(130.66,16.10) scale(1.120,1.0)" font-size="11.2" class="i">h</text>
<text transform="translate(136.59,18.20) scale(1.126,1.0)" font-size="6.4">2</text>
<rect x="142.90" y="7.93" width="5.90" height="1.25" fill="#000"/>
<rect x="142.90" y="10.58" width="5.90" height="1.25" fill="#000"/>
<text transform="translate(153.10,13.60) scale(1.072,1.0)" font-size="15.3" stroke="#000" stroke-width="0.15">280</text>
<text transform="translate(181.46,13.60) scale(1.045,1.0)" font-size="15.3" stroke="#000" stroke-width="0.15">GeV,</text>
<text transform="translate(218.04,13.60) scale(1.023,1.0)" font-size="16.5" class="i" stroke="#000" stroke-width="0.10">υ</text>
<text transform="translate(225.75,16.00) scale(0.975,1.0)" font-size="12" class="i">S</text>
<rect x="234.95" y="7.93" width="6.45" height="1.25" fill="#000"/>
<rect x="234.95" y="10.58" width="6.45" height="1.25" fill="#000"/>
<text transform="translate(245.02,13.60) scale(1.076,1.0)" font-size="15.3" stroke="#000" stroke-width="0.15">350</text>
<text transform="translate(273.45,13.60) scale(1.062,1.0)" font-size="15.3" stroke="#000" stroke-width="0.15">GeV,</text>
<text transform="translate(310.21,13.60) scale(1.203,1.0)" font-size="16.5" class="i" stroke="#000" stroke-width="0.10">m</text>
<text transform="translate(323.15,15.90) scale(1.091,1.0)" font-size="12" class="i">T</text>
<rect x="335.80" y="7.93" width="6.80" height="1.25" fill="#000"/>
<rect x="335.80" y="10.58" width="6.80" height="1.25" fill="#000"/>
<text transform="translate(346.61,13.60) scale(0.964,1.0)" font-size="15.3" stroke="#000" stroke-width="0.15">1</text>
<text transform="translate(358.80,13.60) scale(1.103,1.0)" font-size="15.3" stroke="#000" stroke-width="0.15">TeV,</text>
<text transform="translate(394.01,13.60) scale(0.880,1.0)" font-size="17" class="i" stroke="#000" stroke-width="0.10">s</text>
<text transform="translate(400.23,15.90) scale(0.877,1.0)" font-size="12" class="i">L</text>
<rect x="406.40" y="7.93" width="6.70" height="1.25" fill="#000"/>
<rect x="406.40" y="10.58" width="6.70" height="1.25" fill="#000"/>
<text transform="translate(418.11,13.60) scale(1.036,1.0)" font-size="15.3" stroke="#000" stroke-width="0.15">0.15</text>
<line x1="245.1" y1="56.50" x2="258.3" y2="56.50" stroke="#0000ff" stroke-width="1.1" stroke-opacity="0.8"/>
<path d="M267.1,57.30 L269.0,56.20" fill="none" stroke="#000" stroke-width="0.9"/>
<path d="M268.9,56.00 L272.3,63.80" fill="none" stroke="#000" stroke-width="1.7"/>
<path d="M272.45,64.10 L277.3,47.35 L288.3,47.35" fill="none" stroke="#000" stroke-width="0.95" stroke-linejoin="miter"/>
<text transform="translate(280.41,62.00) scale(0.891,1.0)" font-size="16.8" class="i" stroke="#000" stroke-width="0.10">s</text>
<rect x="290.40" y="56.53" width="6.80" height="1.25" fill="#000"/>
<rect x="290.40" y="59.18" width="6.80" height="1.25" fill="#000"/>
<text transform="translate(300.41,62.20) scale(1.063,1.0)" font-size="15.3" stroke="#000" stroke-width="0.15">500</text>
<text transform="translate(329.20,62.20) scale(0.972,1.0)" font-size="15.3" stroke="#000" stroke-width="0.15">GeV</text>
<line x1="245.1" y1="87.75" x2="258.3" y2="87.75" stroke="#ff0000" stroke-width="1.1" stroke-opacity="0.8"/>
<path d="M267.1,88.55 L269.0,87.45" fill="none" stroke="#000" stroke-width="0.9"/>
<path d="M268.9,87.25 L272.3,95.05" fill="none" stroke="#000" stroke-width="1.7"/>
<path d="M272.45,95.35 L277.3,78.60 L288.3,78.60" fill="none" stroke="#000" stroke-width="0.95" stroke-linejoin="miter"/>
<text transform="translate(280.41,93.25) scale(0.891,1.0)" font-size="16.8" class="i" stroke="#000" stroke-width="0.10">s</text>
<rect x="290.40" y="87.78" width="6.80" height="1.25" fill="#000"/>
<rect x="290.40" y="90.43" width="6.80" height="1.25" fill="#000"/>
<text transform="translate(300.43,93.45) scale(1.020,1.0)" font-size="15.3" stroke="#000" stroke-width="0.15">1</text>
<text transform="translate(312.02,93.45) scale(1.056,1.0)" font-size="15.3" stroke="#000" stroke-width="0.15">TeV</text>
<line x1="245.1" y1="119.00" x2="258.3" y2="119.00" stroke="#00ff00" stroke-width="1.1" stroke-opacity="0.8"/>
<path d="M267.1,119.80 L269.0,118.70" fill="none" stroke="#000" stroke-width="0.9"/>
<path d="M268.9,118.50 L272.3,126.30" fill="none" stroke="#000" stroke-width="1.7"/>
<path d="M272.45,126.60 L277.3,109.85 L288.3,109.85" fill="none" stroke="#000" stroke-width="0.95" stroke-linejoin="miter"/>
<text transform="translate(280.41,124.50) scale(0.891,1.0)" font-size="16.8" class="i" stroke="#000" stroke-width="0.10">s</text>
<rect x="290.40" y="119.03" width="6.80" height="1.25" fill="#000"/>
<rect x="290.40" y="121.68" width="6.80" height="1.25" fill="#000"/>
<text transform="translate(300.43,124.70) scale(1.062,1.0)" font-size="15.3" stroke="#000" stroke-width="0.15">3</text>
<text transform="translate(312.02,124.70) scale(1.056,1.0)" font-size="15.3" stroke="#000" stroke-width="0.15">TeV</text>
<text transform="translate(12.25,176.93) rotate(-90) scale(1.184,1.0)" font-size="15.3" stroke="#000" stroke-width="0.15">d</text>
<text transform="translate(12.25,168.36) rotate(-90) scale(1.439,1.0)" font-size="15.3" class="i" stroke="#fff" stroke-width="0.04">σ</text>
<line x1="18.05" y1="144.35" x2="18.05" y2="190.3" stroke="#000" stroke-width="1.35"/>
<text transform="translate(36.75,190.50) rotate(-90) scale(1.058,1.0)" font-size="16.3" stroke="#000" stroke-width="0.20">dcos</text>
<text transform="translate(36.75,158.73) rotate(-90) scale(1.444,1.0)" font-size="15" class="i" stroke="#fff" stroke-width="0.04">θ</text>
<text transform="translate(39.00,148.54) rotate(-90) scale(1.049,1.0)" font-size="10.7" class="i">s</text>
<text transform="translate(23.60,142.23) rotate(-90) scale(1.073,1.0)" font-size="15.3" stroke="#000" stroke-width="0.15">[ab]</text>
</svg></body></html>
